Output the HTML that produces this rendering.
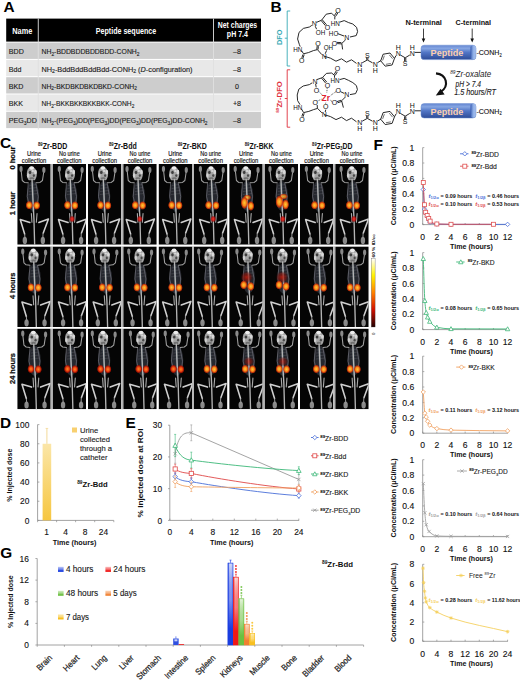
<!DOCTYPE html>
<html><head><meta charset="utf-8"><style>
html,body{margin:0;padding:0;background:#fff;}
body{width:520px;height:680px;overflow:hidden;font-family:"Liberation Sans", sans-serif;}
svg{display:block;font-family:"Liberation Sans", sans-serif;}
</style></head><body>
<svg width="520" height="680" viewBox="0 0 520 680">
<defs>
<symbol id="mouse" viewBox="0 0 33.5 80.7" width="33.5" height="80.7" overflow="visible">
 <g filter="url(#soft)">
  <ellipse cx="15.4" cy="32" rx="6.2" ry="15" fill="#40444e" opacity="0.55"/>
  <path d="M10.8 19.2 L9.8 32.6 L11.5 40 M18.4 19.2 L20.8 32.6 L20 40" stroke="#7a7a84" stroke-width="0.8" opacity="0.8" fill="none"/>
  <path d="M12.2 21.5 L18.8 20.5 M11.8 24.5 L19.4 23.5 M11.4 27.5 L20 26.5 M11.2 30.5 L20.2 29.5" stroke="#70707a" stroke-width="0.5" opacity="0.6"/>
  <path d="M15 19 L15.6 48" stroke="#6a8898" stroke-width="2.2" opacity="0.3"/>
  <path d="M14.2 2.6 C16.8 2.6 19.4 6.5 19.4 9.8 C19.4 12.8 18.2 15.6 17.3 16.2 L11.4 16.2 C10.2 15 9.4 12.2 9.4 9.4 C9.4 5.8 11.6 2.6 14.2 2.6 Z" fill="#a4a4a4"/>
  <ellipse cx="14.2" cy="4.0" rx="2.4" ry="1.8" fill="#ececec"/>
  <ellipse cx="18" cy="8" rx="1.4" ry="2.2" fill="#d8d8d8"/>
  <ellipse cx="10.6" cy="11.5" rx="1.2" ry="2.2" fill="#d0d0d0"/>
  <ellipse cx="15.4" cy="7" rx="1.2" ry="1.0" fill="#d8d8d8"/>
  <ellipse cx="12.6" cy="8.4" rx="1.3" ry="1.6" fill="#3c3c3c"/>
  <ellipse cx="16.4" cy="11.6" rx="1.1" ry="1.4" fill="#484848"/>
  <ellipse cx="14.4" cy="14.4" rx="2.4" ry="1.2" fill="#707070"/>
  <g fill="none" stroke="#c4c4c4" stroke-width="1.4" stroke-linecap="round" stroke-linejoin="round">
   <path d="M3.7 6.5 L4.8 16.5 L7 18.4 L10.8 18.8" stroke="#a0a0a0" stroke-width="1.05"/>
   <path d="M26.3 8 L25 16.5 L22.6 18.4 L18.6 18.8" stroke="#a0a0a0" stroke-width="1.05"/>
   <path d="M14.6 15.5 L15.2 30 L16.5 55 L17.2 80.7" stroke="#b4b4b4" stroke-width="1.35"/>
   <path d="M12.4 58.5 L2.8 55.6 L7.2 70" stroke="#d0d0d0" stroke-width="1.55"/>
   <path d="M21.4 58.5 L31 55 L25.8 69" stroke="#d0d0d0" stroke-width="1.55"/>
   <path d="M13.9 49.5 L14.5 58.3 M19.6 49.5 L18.9 58.3" stroke="#a8a8a8" stroke-width="1.1"/>
  </g>
  <g fill="#8a8a8a">
   <ellipse cx="3.6" cy="5" rx="1.6" ry="3"/>
   <ellipse cx="26.4" cy="6" rx="1.6" ry="3"/>
   <ellipse cx="7.4" cy="76.4" rx="2.2" ry="3.6" fill="#8a8a8a"/>
   <ellipse cx="25.4" cy="76.4" rx="2.2" ry="3.6" fill="#8a8a8a"/>
   <path d="M7.2 70 L7.6 75 M25.6 69 L25.4 75" stroke="#9a9a9a" stroke-width="1"/>
  </g>
 </g>
</symbol>

<filter id="soft" x="-10%" y="-10%" width="120%" height="120%"><feGaussianBlur stdDeviation="0.4"/></filter>
<radialGradient id="hot0"><stop offset="0" stop-color="#ffc838"/><stop offset="0.5" stop-color="#f88818"/><stop offset="0.78" stop-color="#d03008" stop-opacity="0.85"/><stop offset="1" stop-color="#d03008" stop-opacity="0"/></radialGradient>
<radialGradient id="hot1"><stop offset="0" stop-color="#ffc838"/><stop offset="0.5" stop-color="#f88818"/><stop offset="0.78" stop-color="#d03008" stop-opacity="0.85"/><stop offset="1" stop-color="#d03008" stop-opacity="0"/></radialGradient>
<radialGradient id="hot2"><stop offset="0" stop-color="#ff8a20"/><stop offset="0.5" stop-color="#e84010"/><stop offset="0.78" stop-color="#a81000" stop-opacity="0.85"/><stop offset="1" stop-color="#a81000" stop-opacity="0"/></radialGradient>
<radialGradient id="haze"><stop offset="0" stop-color="#c01808" stop-opacity="0.85"/><stop offset="0.6" stop-color="#801008" stop-opacity="0.6"/><stop offset="1" stop-color="#400000" stop-opacity="0"/></radialGradient>
<radialGradient id="bl"><stop offset="0" stop-color="#ff3020"/><stop offset="0.6" stop-color="#c01010" stop-opacity="0.8"/><stop offset="1" stop-color="#800000" stop-opacity="0"/></radialGradient>
<linearGradient id="cbar" x1="0" y1="0" x2="0" y2="1"><stop offset="0" stop-color="#ffffff"/><stop offset="0.25" stop-color="#fff200"/><stop offset="0.5" stop-color="#ff8000"/><stop offset="0.75" stop-color="#d01000"/><stop offset="1" stop-color="#200000"/></linearGradient>
<linearGradient id="ybar" x1="0" y1="0" x2="0" y2="1"><stop offset="0" stop-color="#fbe6a8"/><stop offset="1" stop-color="#f6c640"/></linearGradient>
<linearGradient id="g0" x1="0" y1="0" x2="0" y2="1"><stop offset="0" stop-color="#dfe5fb"/><stop offset="0.45" stop-color="#1a3ee0" stop-opacity="0.55"/><stop offset="0.8" stop-color="#1a3ee0"/><stop offset="1" stop-color="#1a3ee0"/></linearGradient>
<linearGradient id="gh0" x1="0" y1="0" x2="1" y2="0"><stop offset="0" stop-color="#1a3ee0" stop-opacity="0.9"/><stop offset="0.35" stop-color="#1a3ee0" stop-opacity="0"/><stop offset="1" stop-color="#1a3ee0" stop-opacity="0.15"/></linearGradient>
<linearGradient id="g1" x1="0" y1="0" x2="0" y2="1"><stop offset="0" stop-color="#fde0e0"/><stop offset="0.45" stop-color="#f01818" stop-opacity="0.55"/><stop offset="0.8" stop-color="#f01818"/><stop offset="1" stop-color="#f01818"/></linearGradient>
<linearGradient id="gh1" x1="0" y1="0" x2="1" y2="0"><stop offset="0" stop-color="#f01818" stop-opacity="0.9"/><stop offset="0.35" stop-color="#f01818" stop-opacity="0"/><stop offset="1" stop-color="#f01818" stop-opacity="0.15"/></linearGradient>
<linearGradient id="g2" x1="0" y1="0" x2="0" y2="1"><stop offset="0" stop-color="#eef7e6"/><stop offset="0.45" stop-color="#6cc040" stop-opacity="0.55"/><stop offset="0.8" stop-color="#6cc040"/><stop offset="1" stop-color="#6cc040"/></linearGradient>
<linearGradient id="gh2" x1="0" y1="0" x2="1" y2="0"><stop offset="0" stop-color="#6cc040" stop-opacity="0.9"/><stop offset="0.35" stop-color="#6cc040" stop-opacity="0"/><stop offset="1" stop-color="#6cc040" stop-opacity="0.15"/></linearGradient>
<linearGradient id="g3" x1="0" y1="0" x2="0" y2="1"><stop offset="0" stop-color="#fde8d8"/><stop offset="0.45" stop-color="#f08030" stop-opacity="0.55"/><stop offset="0.8" stop-color="#f08030"/><stop offset="1" stop-color="#f08030"/></linearGradient>
<linearGradient id="gh3" x1="0" y1="0" x2="1" y2="0"><stop offset="0" stop-color="#f08030" stop-opacity="0.9"/><stop offset="0.35" stop-color="#f08030" stop-opacity="0"/><stop offset="1" stop-color="#f08030" stop-opacity="0.15"/></linearGradient>
<linearGradient id="g4" x1="0" y1="0" x2="0" y2="1"><stop offset="0" stop-color="#fef4d0"/><stop offset="0.45" stop-color="#f8c020" stop-opacity="0.55"/><stop offset="0.8" stop-color="#f8c020"/><stop offset="1" stop-color="#f8c020"/></linearGradient>
<linearGradient id="gh4" x1="0" y1="0" x2="1" y2="0"><stop offset="0" stop-color="#f8c020" stop-opacity="0.9"/><stop offset="0.35" stop-color="#f8c020" stop-opacity="0"/><stop offset="1" stop-color="#f8c020" stop-opacity="0.15"/></linearGradient>
<linearGradient id="pep" x1="0" y1="0" x2="0" y2="1"><stop offset="0" stop-color="#6486d2"/><stop offset="0.22" stop-color="#86a6e2"/><stop offset="0.5" stop-color="#5276c6"/><stop offset="1" stop-color="#2e4c98"/></linearGradient>
<linearGradient id="pepend" x1="0" y1="0" x2="1" y2="0"><stop offset="0" stop-color="#3a5cb0"/><stop offset="0.5" stop-color="#8eaee6"/><stop offset="1" stop-color="#a8c0ee"/></linearGradient></defs>
<text x="3.4" y="11.9" font-size="15.4" font-weight="bold" fill="#000" text-anchor="start" >A</text>
<rect x="6.2" y="18.6" width="254.8" height="23" fill="#000"/>
<rect x="6.2" y="42.6" width="254.8" height="16.3" fill="#cdcdcd"/>
<text x="8.8" y="54.2" font-size="7.1" font-weight="normal" fill="#1a1a1a" text-anchor="start" stroke="#1a1a1a" stroke-width="0.12">BDD</text>
<text x="41.5" y="54.2" font-size="7.1" font-weight="normal" fill="#1a1a1a" text-anchor="None" textLength="98" lengthAdjust="spacingAndGlyphs" stroke="#1a1a1a" stroke-width="0.12">NH<tspan font-size="5" dy="1.5">2</tspan><tspan dy="-1.5">-BDDBDDBDDBDD-CONH</tspan><tspan font-size="5" dy="1.5">2</tspan></text>
<text x="237" y="54.2" font-size="7.1" font-weight="normal" fill="#1a1a1a" text-anchor="middle" stroke="#1a1a1a" stroke-width="0.12">–8</text>
<rect x="6.2" y="59.900000000000006" width="254.8" height="16.3" fill="#e8e8e8"/>
<text x="8.8" y="71.5" font-size="7.1" font-weight="normal" fill="#1a1a1a" text-anchor="start" stroke="#1a1a1a" stroke-width="0.12">Bdd</text>
<text x="41.5" y="71.5" font-size="7.1" font-weight="normal" fill="#1a1a1a" text-anchor="None" textLength="151" lengthAdjust="spacingAndGlyphs" stroke="#1a1a1a" stroke-width="0.12">NH<tspan font-size="5" dy="1.5">2</tspan><tspan dy="-1.5">-BddBddBddBdd-CONH</tspan><tspan font-size="5" dy="1.5">2</tspan><tspan dy="-1.5"> (</tspan><tspan font-style="italic">D</tspan>-configuration)</text>
<text x="237" y="71.5" font-size="7.1" font-weight="normal" fill="#1a1a1a" text-anchor="middle" stroke="#1a1a1a" stroke-width="0.12">–8</text>
<rect x="6.2" y="77.2" width="254.8" height="16.3" fill="#cdcdcd"/>
<text x="8.8" y="88.8" font-size="7.1" font-weight="normal" fill="#1a1a1a" text-anchor="start" stroke="#1a1a1a" stroke-width="0.12">BKD</text>
<text x="41.5" y="88.8" font-size="7.1" font-weight="normal" fill="#1a1a1a" text-anchor="None" textLength="95.4" lengthAdjust="spacingAndGlyphs" stroke="#1a1a1a" stroke-width="0.12">NH<tspan font-size="5" dy="1.5">2</tspan><tspan dy="-1.5">-BKDBKDBKDBKD-CONH</tspan><tspan font-size="5" dy="1.5">2</tspan></text>
<text x="237" y="88.8" font-size="7.1" font-weight="normal" fill="#1a1a1a" text-anchor="middle" stroke="#1a1a1a" stroke-width="0.12">0</text>
<rect x="6.2" y="94.5" width="254.8" height="16.3" fill="#e8e8e8"/>
<text x="8.8" y="106.1" font-size="7.1" font-weight="normal" fill="#1a1a1a" text-anchor="start" stroke="#1a1a1a" stroke-width="0.12">BKK</text>
<text x="41.5" y="106.1" font-size="7.1" font-weight="normal" fill="#1a1a1a" text-anchor="None" textLength="92.8" lengthAdjust="spacingAndGlyphs" stroke="#1a1a1a" stroke-width="0.12">NH<tspan font-size="5" dy="1.5">2</tspan><tspan dy="-1.5">-BKKBKKBKKBKK-CONH</tspan><tspan font-size="5" dy="1.5">2</tspan></text>
<text x="237" y="106.1" font-size="7.1" font-weight="normal" fill="#1a1a1a" text-anchor="middle" stroke="#1a1a1a" stroke-width="0.12">+8</text>
<rect x="6.2" y="111.80000000000001" width="254.8" height="16.3" fill="#cdcdcd"/>
<text x="8.8" y="123.4" font-size="7.1" font-weight="normal" fill="#1a1a1a" text-anchor="start" stroke="#1a1a1a" stroke-width="0.12">PEG<tspan font-size="5" dy="1.5">3</tspan><tspan dy="-1.5">DD</tspan></text>
<text x="41.5" y="123.4" font-size="7.1" font-weight="normal" fill="#1a1a1a" text-anchor="None" textLength="166" lengthAdjust="spacingAndGlyphs" stroke="#1a1a1a" stroke-width="0.12">NH<tspan font-size="5" dy="1.5">2</tspan><tspan dy="-1.5">-(PEG</tspan><tspan font-size="5" dy="1.5">3</tspan><tspan dy="-1.5">)DD(PEG</tspan><tspan font-size="5" dy="1.5">3</tspan><tspan dy="-1.5">)DD(PEG</tspan><tspan font-size="5" dy="1.5">3</tspan><tspan dy="-1.5">)DD(PEG</tspan><tspan font-size="5" dy="1.5">3</tspan><tspan dy="-1.5">)DD-CONH</tspan><tspan font-size="5" dy="1.5">2</tspan></text>
<text x="237" y="123.4" font-size="7.1" font-weight="normal" fill="#1a1a1a" text-anchor="middle" stroke="#1a1a1a" stroke-width="0.12">–8</text>
<rect x="37.8" y="18.6" width="0.9" height="111" fill="#e0e0e0"/>
<rect x="213" y="18.6" width="0.9" height="111" fill="#e0e0e0"/>
<text x="22.3" y="33.6" font-size="8.3" font-weight="bold" fill="#fff" text-anchor="middle" textLength="20" lengthAdjust="spacingAndGlyphs" >Name</text>
<text x="126" y="33.6" font-size="8.3" font-weight="bold" fill="#fff" text-anchor="middle" textLength="60.4" lengthAdjust="spacingAndGlyphs" >Peptide sequence</text>
<text x="237.5" y="27.6" font-size="8.3" font-weight="bold" fill="#fff" text-anchor="middle" textLength="39.4" lengthAdjust="spacingAndGlyphs" >Net charges</text>
<text x="237.4" y="36.8" font-size="8.3" font-weight="bold" fill="#fff" text-anchor="middle" textLength="21.1" lengthAdjust="spacingAndGlyphs" >pH 7.4</text>
<text x="0.1" y="147.6" font-size="15.4" font-weight="bold" fill="#000" text-anchor="start" >C</text>
<text x="38" y="148.8" font-size="8.6" font-weight="bold" fill="#111" textLength="29.3" lengthAdjust="spacingAndGlyphs"><tspan font-size="5.2" dy="-3.2">89</tspan><tspan dy="3.2">Zr-BDD</tspan></text>
<text x="109" y="148.8" font-size="8.6" font-weight="bold" fill="#111" textLength="27.8" lengthAdjust="spacingAndGlyphs"><tspan font-size="5.2" dy="-3.2">89</tspan><tspan dy="3.2">Zr-Bdd</tspan></text>
<text x="177.7" y="148.8" font-size="8.6" font-weight="bold" fill="#111" textLength="29.2" lengthAdjust="spacingAndGlyphs"><tspan font-size="5.2" dy="-3.2">89</tspan><tspan dy="3.2">Zr-BKD</tspan></text>
<text x="244.8" y="148.8" font-size="8.6" font-weight="bold" fill="#111" textLength="28.8" lengthAdjust="spacingAndGlyphs"><tspan font-size="5.2" dy="-3.2">89</tspan><tspan dy="3.2">Zr-BKK</tspan></text>
<text x="312.1" y="148.8" font-size="8.6" font-weight="bold" fill="#111" textLength="40.4" lengthAdjust="spacingAndGlyphs"><tspan font-size="5.2" dy="-3.2">89</tspan><tspan dy="3.2">Zr-PEG<tspan font-size="5" dy="1.6">3</tspan><tspan dy="-1.6">DD</tspan></tspan></text>
<text x="34.0" y="155.8" font-size="6.3" font-weight="normal" fill="#111" text-anchor="middle" textLength="14" lengthAdjust="spacingAndGlyphs" stroke="#111" stroke-width="0.15">Urine</text>
<text x="34.0" y="162.5" font-size="6.3" font-weight="normal" fill="#111" text-anchor="middle" textLength="24.6" lengthAdjust="spacingAndGlyphs" stroke="#111" stroke-width="0.15">collection</text>
<text x="69.33" y="155.8" font-size="6.3" font-weight="normal" fill="#111" text-anchor="middle" textLength="20.8" lengthAdjust="spacingAndGlyphs" stroke="#111" stroke-width="0.15">No urine</text>
<text x="69.33" y="162.5" font-size="6.3" font-weight="normal" fill="#111" text-anchor="middle" textLength="24.6" lengthAdjust="spacingAndGlyphs" stroke="#111" stroke-width="0.15">collection</text>
<text x="104.66" y="155.8" font-size="6.3" font-weight="normal" fill="#111" text-anchor="middle" textLength="14" lengthAdjust="spacingAndGlyphs" stroke="#111" stroke-width="0.15">Urine</text>
<text x="104.66" y="162.5" font-size="6.3" font-weight="normal" fill="#111" text-anchor="middle" textLength="24.6" lengthAdjust="spacingAndGlyphs" stroke="#111" stroke-width="0.15">collection</text>
<text x="139.99" y="155.8" font-size="6.3" font-weight="normal" fill="#111" text-anchor="middle" textLength="20.8" lengthAdjust="spacingAndGlyphs" stroke="#111" stroke-width="0.15">No urine</text>
<text x="139.99" y="162.5" font-size="6.3" font-weight="normal" fill="#111" text-anchor="middle" textLength="24.6" lengthAdjust="spacingAndGlyphs" stroke="#111" stroke-width="0.15">collection</text>
<text x="175.32" y="155.8" font-size="6.3" font-weight="normal" fill="#111" text-anchor="middle" textLength="14" lengthAdjust="spacingAndGlyphs" stroke="#111" stroke-width="0.15">Urine</text>
<text x="175.32" y="162.5" font-size="6.3" font-weight="normal" fill="#111" text-anchor="middle" textLength="24.6" lengthAdjust="spacingAndGlyphs" stroke="#111" stroke-width="0.15">collection</text>
<text x="210.64999999999998" y="155.8" font-size="6.3" font-weight="normal" fill="#111" text-anchor="middle" textLength="20.8" lengthAdjust="spacingAndGlyphs" stroke="#111" stroke-width="0.15">No urine</text>
<text x="210.64999999999998" y="162.5" font-size="6.3" font-weight="normal" fill="#111" text-anchor="middle" textLength="24.6" lengthAdjust="spacingAndGlyphs" stroke="#111" stroke-width="0.15">collection</text>
<text x="245.98" y="155.8" font-size="6.3" font-weight="normal" fill="#111" text-anchor="middle" textLength="14" lengthAdjust="spacingAndGlyphs" stroke="#111" stroke-width="0.15">Urine</text>
<text x="245.98" y="162.5" font-size="6.3" font-weight="normal" fill="#111" text-anchor="middle" textLength="24.6" lengthAdjust="spacingAndGlyphs" stroke="#111" stroke-width="0.15">collection</text>
<text x="281.31" y="155.8" font-size="6.3" font-weight="normal" fill="#111" text-anchor="middle" textLength="20.8" lengthAdjust="spacingAndGlyphs" stroke="#111" stroke-width="0.15">No urine</text>
<text x="281.31" y="162.5" font-size="6.3" font-weight="normal" fill="#111" text-anchor="middle" textLength="24.6" lengthAdjust="spacingAndGlyphs" stroke="#111" stroke-width="0.15">collection</text>
<text x="316.64" y="155.8" font-size="6.3" font-weight="normal" fill="#111" text-anchor="middle" textLength="14" lengthAdjust="spacingAndGlyphs" stroke="#111" stroke-width="0.15">Urine</text>
<text x="316.64" y="162.5" font-size="6.3" font-weight="normal" fill="#111" text-anchor="middle" textLength="24.6" lengthAdjust="spacingAndGlyphs" stroke="#111" stroke-width="0.15">collection</text>
<text x="351.96999999999997" y="155.8" font-size="6.3" font-weight="normal" fill="#111" text-anchor="middle" textLength="20.8" lengthAdjust="spacingAndGlyphs" stroke="#111" stroke-width="0.15">No urine</text>
<text x="351.96999999999997" y="162.5" font-size="6.3" font-weight="normal" fill="#111" text-anchor="middle" textLength="24.6" lengthAdjust="spacingAndGlyphs" stroke="#111" stroke-width="0.15">collection</text>
<text transform="translate(15.3 158) rotate(-90)" x="0" y="0" font-size="8.0" font-weight="bold" fill="#111" stroke="#111" stroke-width="0.25" text-anchor="middle" textLength="23" lengthAdjust="spacingAndGlyphs">0 hour</text>
<text transform="translate(15.3 203.5) rotate(-90)" x="0" y="0" font-size="8.0" font-weight="bold" fill="#111" stroke="#111" stroke-width="0.25" text-anchor="middle" textLength="23.5" lengthAdjust="spacingAndGlyphs">1 hour</text>
<text transform="translate(15.3 285.8) rotate(-90)" x="0" y="0" font-size="8.0" font-weight="bold" fill="#111" stroke="#111" stroke-width="0.25" text-anchor="middle" textLength="26.5" lengthAdjust="spacingAndGlyphs">4 hours</text>
<text transform="translate(15.3 368.5) rotate(-90)" x="0" y="0" font-size="8.0" font-weight="bold" fill="#111" stroke="#111" stroke-width="0.25" text-anchor="middle" textLength="31" lengthAdjust="spacingAndGlyphs">24 hours</text>
<svg x="17.25" y="164.0" width="33.5" height="80.7" viewBox="0 0 33.5 80.7" overflow="hidden">
<rect width="33.5" height="80.7" fill="#050505"/>
<g transform="translate(0.2 0)">
<use href="#mouse"/>
<ellipse cx="11.8" cy="41.2" rx="3.7" ry="4.4" fill="url(#hot0)"/>
<ellipse cx="19.2" cy="41.5" rx="3.7" ry="4.4" fill="url(#hot0)"/>
</g>
</svg>
<rect x="50.75" y="164.0" width="1.83" height="80.7" fill="#b4b4b4"/>
<svg x="52.58" y="164.0" width="33.5" height="80.7" viewBox="0 0 33.5 80.7" overflow="hidden">
<rect width="33.5" height="80.7" fill="#050505"/>
<g transform="translate(3.1 0)">
<use href="#mouse"/>
<ellipse cx="11.8" cy="41.2" rx="3.7" ry="4.4" fill="url(#hot0)"/>
<ellipse cx="19.2" cy="41.5" rx="3.7" ry="4.4" fill="url(#hot0)"/>
<ellipse cx="16.4" cy="55" rx="3.0" ry="3.5" fill="url(#bl)"/>
</g>
</svg>
<svg x="87.91" y="164.0" width="33.5" height="80.7" viewBox="0 0 33.5 80.7" overflow="hidden">
<rect width="33.5" height="80.7" fill="#050505"/>
<g transform="translate(0.8 0)">
<use href="#mouse"/>
<ellipse cx="11.8" cy="41.2" rx="3.7" ry="4.4" fill="url(#hot0)"/>
<ellipse cx="19.2" cy="41.5" rx="3.7" ry="4.4" fill="url(#hot0)"/>
</g>
</svg>
<rect x="121.41" y="164.0" width="1.83" height="80.7" fill="#b4b4b4"/>
<svg x="123.24" y="164.0" width="33.5" height="80.7" viewBox="0 0 33.5 80.7" overflow="hidden">
<rect width="33.5" height="80.7" fill="#050505"/>
<g transform="translate(0.2 0)">
<use href="#mouse"/>
<ellipse cx="11.8" cy="41.2" rx="3.7" ry="4.4" fill="url(#hot0)"/>
<ellipse cx="19.2" cy="41.5" rx="3.7" ry="4.4" fill="url(#hot0)"/>
<ellipse cx="16.4" cy="55" rx="3.0" ry="3.5" fill="url(#bl)"/>
</g>
</svg>
<svg x="158.57" y="164.0" width="33.5" height="80.7" viewBox="0 0 33.5 80.7" overflow="hidden">
<rect width="33.5" height="80.7" fill="#050505"/>
<g transform="translate(1.3 0)">
<use href="#mouse"/>
<ellipse cx="11.8" cy="41.2" rx="3.7" ry="4.4" fill="url(#hot0)"/>
<ellipse cx="19.2" cy="41.5" rx="3.7" ry="4.4" fill="url(#hot0)"/>
</g>
</svg>
<rect x="192.07" y="164.0" width="1.83" height="80.7" fill="#b4b4b4"/>
<svg x="193.90" y="164.0" width="33.5" height="80.7" viewBox="0 0 33.5 80.7" overflow="hidden">
<rect width="33.5" height="80.7" fill="#050505"/>
<g transform="translate(2.9 0)">
<use href="#mouse"/>
<ellipse cx="11.8" cy="41.2" rx="3.7" ry="4.4" fill="url(#hot0)"/>
<ellipse cx="19.2" cy="41.5" rx="3.7" ry="4.4" fill="url(#hot0)"/>
<ellipse cx="16.4" cy="55" rx="3.0" ry="3.5" fill="url(#bl)"/>
</g>
</svg>
<svg x="229.23" y="164.0" width="33.5" height="80.7" viewBox="0 0 33.5 80.7" overflow="hidden">
<rect width="33.5" height="80.7" fill="#050505"/>
<g transform="translate(2.4 0)">
<use href="#mouse"/>
</g>
<ellipse cx="18" cy="33.5" rx="4" ry="3" fill="url(#hot0)" opacity="0.8"/>
<ellipse cx="15.2" cy="38.8" rx="3.8" ry="6.4" fill="url(#hot0)"/>
<ellipse cx="21.6" cy="42" rx="3.6" ry="5" fill="url(#hot0)"/>
</svg>
<rect x="262.73" y="164.0" width="1.83" height="80.7" fill="#b4b4b4"/>
<svg x="264.56" y="164.0" width="33.5" height="80.7" viewBox="0 0 33.5 80.7" overflow="hidden">
<rect width="33.5" height="80.7" fill="#050505"/>
<g transform="translate(1.8 0)">
<use href="#mouse"/>
<ellipse cx="16.4" cy="55" rx="3.0" ry="3.5" fill="url(#bl)"/>
</g>
<ellipse cx="19" cy="32.5" rx="4.4" ry="3" fill="url(#hot0)" opacity="0.8"/>
<ellipse cx="14.8" cy="37.8" rx="4" ry="6.6" fill="url(#hot0)"/>
<ellipse cx="21" cy="40.5" rx="3.6" ry="5.4" fill="url(#hot0)"/>
</svg>
<svg x="299.89" y="164.0" width="33.5" height="80.7" viewBox="0 0 33.5 80.7" overflow="hidden">
<rect width="33.5" height="80.7" fill="#050505"/>
<g transform="translate(2.9 0)">
<use href="#mouse"/>
<ellipse cx="11.8" cy="41.2" rx="3.7" ry="4.4" fill="url(#hot0)"/>
<ellipse cx="19.2" cy="41.5" rx="3.7" ry="4.4" fill="url(#hot0)"/>
</g>
</svg>
<rect x="333.39" y="164.0" width="1.83" height="80.7" fill="#b4b4b4"/>
<svg x="335.22" y="164.0" width="33.5" height="80.7" viewBox="0 0 33.5 80.7" overflow="hidden">
<rect width="33.5" height="80.7" fill="#050505"/>
<g transform="translate(2.3 0)">
<use href="#mouse"/>
<ellipse cx="11.8" cy="41.2" rx="3.7" ry="4.4" fill="url(#hot0)"/>
<ellipse cx="19.2" cy="41.5" rx="3.7" ry="4.4" fill="url(#hot0)"/>
<ellipse cx="16.4" cy="55" rx="3.0" ry="3.5" fill="url(#bl)"/>
</g>
</svg>
<svg x="17.25" y="246.4" width="33.5" height="80.7" viewBox="0 0 33.5 80.7" overflow="hidden">
<rect width="33.5" height="80.7" fill="#050505"/>
<g transform="translate(1.9 0)">
<use href="#mouse"/>
<ellipse cx="11.8" cy="41.0" rx="3.7" ry="4.4" fill="url(#hot1)"/>
<ellipse cx="19.2" cy="41.3" rx="3.7" ry="4.4" fill="url(#hot1)"/>
</g>
</svg>
<rect x="50.75" y="246.4" width="1.83" height="80.7" fill="#b4b4b4"/>
<svg x="52.58" y="246.4" width="33.5" height="80.7" viewBox="0 0 33.5 80.7" overflow="hidden">
<rect width="33.5" height="80.7" fill="#050505"/>
<g transform="translate(3.1 0)">
<use href="#mouse"/>
<ellipse cx="11.8" cy="41.0" rx="3.7" ry="4.4" fill="url(#hot1)"/>
<ellipse cx="19.2" cy="41.3" rx="3.7" ry="4.4" fill="url(#hot1)"/>
</g>
</svg>
<svg x="87.91" y="246.4" width="33.5" height="80.7" viewBox="0 0 33.5 80.7" overflow="hidden">
<rect width="33.5" height="80.7" fill="#050505"/>
<g transform="translate(2.5 0)">
<use href="#mouse"/>
<ellipse cx="11.8" cy="41.0" rx="3.7" ry="4.4" fill="url(#hot1)"/>
<ellipse cx="19.2" cy="41.3" rx="3.7" ry="4.4" fill="url(#hot1)"/>
</g>
</svg>
<rect x="121.41" y="246.4" width="1.83" height="80.7" fill="#b4b4b4"/>
<svg x="123.24" y="246.4" width="33.5" height="80.7" viewBox="0 0 33.5 80.7" overflow="hidden">
<rect width="33.5" height="80.7" fill="#050505"/>
<g transform="translate(1.9 0)">
<use href="#mouse"/>
<ellipse cx="11.8" cy="41.0" rx="3.7" ry="4.4" fill="url(#hot1)"/>
<ellipse cx="19.2" cy="41.3" rx="3.7" ry="4.4" fill="url(#hot1)"/>
</g>
</svg>
<svg x="158.57" y="246.4" width="33.5" height="80.7" viewBox="0 0 33.5 80.7" overflow="hidden">
<rect width="33.5" height="80.7" fill="#050505"/>
<g transform="translate(1.3 0)">
<use href="#mouse"/>
<ellipse cx="11.8" cy="41.0" rx="3.7" ry="4.4" fill="url(#hot1)"/>
<ellipse cx="19.2" cy="41.3" rx="3.7" ry="4.4" fill="url(#hot1)"/>
</g>
</svg>
<rect x="192.07" y="246.4" width="1.83" height="80.7" fill="#b4b4b4"/>
<svg x="193.90" y="246.4" width="33.5" height="80.7" viewBox="0 0 33.5 80.7" overflow="hidden">
<rect width="33.5" height="80.7" fill="#050505"/>
<g transform="translate(1.2 0)">
<use href="#mouse"/>
<ellipse cx="11.8" cy="41.0" rx="3.7" ry="4.4" fill="url(#hot1)"/>
<ellipse cx="19.2" cy="41.3" rx="3.7" ry="4.4" fill="url(#hot1)"/>
</g>
</svg>
<svg x="229.23" y="246.4" width="33.5" height="80.7" viewBox="0 0 33.5 80.7" overflow="hidden">
<rect width="33.5" height="80.7" fill="#050505"/>
<g transform="translate(4.1 0)">
<use href="#mouse"/>
</g>
<ellipse cx="17.5" cy="31" rx="6.5" ry="6.5" fill="url(#haze)"/>
<ellipse cx="14.5" cy="38.5" rx="3.8" ry="4.6" fill="url(#hot1)"/>
<ellipse cx="21.5" cy="40" rx="3.8" ry="4.6" fill="url(#hot1)"/>
</svg>
<rect x="262.73" y="246.4" width="1.83" height="80.7" fill="#b4b4b4"/>
<svg x="264.56" y="246.4" width="33.5" height="80.7" viewBox="0 0 33.5 80.7" overflow="hidden">
<rect width="33.5" height="80.7" fill="#050505"/>
<g transform="translate(3.5 0)">
<use href="#mouse"/>
</g>
<ellipse cx="17.5" cy="31" rx="6.5" ry="6.5" fill="url(#haze)"/>
<ellipse cx="14.5" cy="38.5" rx="3.8" ry="4.6" fill="url(#hot1)"/>
<ellipse cx="21.5" cy="40" rx="3.8" ry="4.6" fill="url(#hot1)"/>
</svg>
<svg x="299.89" y="246.4" width="33.5" height="80.7" viewBox="0 0 33.5 80.7" overflow="hidden">
<rect width="33.5" height="80.7" fill="#050505"/>
<g transform="translate(4.6 0)">
<use href="#mouse"/>
<ellipse cx="11.8" cy="41.0" rx="3.7" ry="4.4" fill="url(#hot1)"/>
<ellipse cx="19.2" cy="41.3" rx="3.7" ry="4.4" fill="url(#hot1)"/>
</g>
</svg>
<rect x="333.39" y="246.4" width="1.83" height="80.7" fill="#b4b4b4"/>
<svg x="335.22" y="246.4" width="33.5" height="80.7" viewBox="0 0 33.5 80.7" overflow="hidden">
<rect width="33.5" height="80.7" fill="#050505"/>
<g transform="translate(3.0 0)">
<use href="#mouse"/>
<ellipse cx="11.8" cy="41.0" rx="3.7" ry="4.4" fill="url(#hot1)"/>
<ellipse cx="19.2" cy="41.3" rx="3.7" ry="4.4" fill="url(#hot1)"/>
</g>
</svg>
<svg x="17.25" y="328.6" width="33.5" height="80.7" viewBox="0 0 33.5 80.7" overflow="hidden">
<rect width="33.5" height="80.7" fill="#050505"/>
<g transform="translate(1.9 0)">
<use href="#mouse"/>
<ellipse cx="11.8" cy="40.4" rx="3.7" ry="4.4" fill="url(#hot2)"/>
<ellipse cx="19.2" cy="40.699999999999996" rx="3.7" ry="4.4" fill="url(#hot2)"/>
</g>
</svg>
<rect x="50.75" y="328.6" width="1.83" height="80.7" fill="#b4b4b4"/>
<svg x="52.58" y="328.6" width="33.5" height="80.7" viewBox="0 0 33.5 80.7" overflow="hidden">
<rect width="33.5" height="80.7" fill="#050505"/>
<g transform="translate(3.1 0)">
<use href="#mouse"/>
<ellipse cx="11.8" cy="40.4" rx="3.7" ry="4.4" fill="url(#hot2)"/>
<ellipse cx="19.2" cy="40.699999999999996" rx="3.7" ry="4.4" fill="url(#hot2)"/>
</g>
</svg>
<svg x="87.91" y="328.6" width="33.5" height="80.7" viewBox="0 0 33.5 80.7" overflow="hidden">
<rect width="33.5" height="80.7" fill="#050505"/>
<g transform="translate(0.8 0)">
<use href="#mouse"/>
<ellipse cx="11.8" cy="40.4" rx="3.7" ry="4.4" fill="url(#hot2)"/>
<ellipse cx="19.2" cy="40.699999999999996" rx="3.7" ry="4.4" fill="url(#hot2)"/>
</g>
</svg>
<rect x="121.41" y="328.6" width="1.83" height="80.7" fill="#b4b4b4"/>
<svg x="123.24" y="328.6" width="33.5" height="80.7" viewBox="0 0 33.5 80.7" overflow="hidden">
<rect width="33.5" height="80.7" fill="#050505"/>
<g transform="translate(3.6 0)">
<use href="#mouse"/>
<ellipse cx="11.8" cy="40.4" rx="3.7" ry="4.4" fill="url(#hot2)"/>
<ellipse cx="19.2" cy="40.699999999999996" rx="3.7" ry="4.4" fill="url(#hot2)"/>
</g>
</svg>
<svg x="158.57" y="328.6" width="33.5" height="80.7" viewBox="0 0 33.5 80.7" overflow="hidden">
<rect width="33.5" height="80.7" fill="#050505"/>
<g transform="translate(3.1 0)">
<use href="#mouse"/>
<ellipse cx="11.8" cy="40.4" rx="3.7" ry="4.4" fill="url(#hot2)"/>
<ellipse cx="19.2" cy="40.699999999999996" rx="3.7" ry="4.4" fill="url(#hot2)"/>
</g>
</svg>
<rect x="192.07" y="328.6" width="1.83" height="80.7" fill="#b4b4b4"/>
<svg x="193.90" y="328.6" width="33.5" height="80.7" viewBox="0 0 33.5 80.7" overflow="hidden">
<rect width="33.5" height="80.7" fill="#050505"/>
<g transform="translate(1.2 0)">
<use href="#mouse"/>
<ellipse cx="11.8" cy="40.4" rx="3.7" ry="4.4" fill="url(#hot1)"/>
<ellipse cx="19.2" cy="40.699999999999996" rx="3.7" ry="4.4" fill="url(#hot1)"/>
</g>
</svg>
<svg x="229.23" y="328.6" width="33.5" height="80.7" viewBox="0 0 33.5 80.7" overflow="hidden">
<rect width="33.5" height="80.7" fill="#050505"/>
<g transform="translate(4.1 0)">
<use href="#mouse"/>
<ellipse cx="15.5" cy="33" rx="5.5" ry="5" fill="url(#haze)" opacity="0.8"/>
<ellipse cx="11.8" cy="40.4" rx="3.7" ry="4.4" fill="url(#hot1)"/>
<ellipse cx="19.2" cy="40.699999999999996" rx="3.7" ry="4.4" fill="url(#hot1)"/>
</g>
</svg>
<rect x="262.73" y="328.6" width="1.83" height="80.7" fill="#b4b4b4"/>
<svg x="264.56" y="328.6" width="33.5" height="80.7" viewBox="0 0 33.5 80.7" overflow="hidden">
<rect width="33.5" height="80.7" fill="#050505"/>
<g transform="translate(2.8 0)">
<use href="#mouse"/>
<ellipse cx="15.5" cy="33" rx="5.5" ry="5" fill="url(#haze)" opacity="0.8"/>
<ellipse cx="11.8" cy="40.4" rx="3.7" ry="4.4" fill="url(#hot1)"/>
<ellipse cx="19.2" cy="40.699999999999996" rx="3.7" ry="4.4" fill="url(#hot1)"/>
</g>
</svg>
<svg x="299.89" y="328.6" width="33.5" height="80.7" viewBox="0 0 33.5 80.7" overflow="hidden">
<rect width="33.5" height="80.7" fill="#050505"/>
<g transform="translate(4.6 0)">
<use href="#mouse"/>
<ellipse cx="11.8" cy="40.4" rx="3.7" ry="4.4" fill="url(#hot1)"/>
<ellipse cx="19.2" cy="40.699999999999996" rx="3.7" ry="4.4" fill="url(#hot1)"/>
</g>
</svg>
<rect x="333.39" y="328.6" width="1.83" height="80.7" fill="#b4b4b4"/>
<svg x="335.22" y="328.6" width="33.5" height="80.7" viewBox="0 0 33.5 80.7" overflow="hidden">
<rect width="33.5" height="80.7" fill="#050505"/>
<g transform="translate(3.0 0)">
<use href="#mouse"/>
<ellipse cx="11.8" cy="40.4" rx="3.7" ry="4.4" fill="url(#hot1)"/>
<ellipse cx="19.2" cy="40.699999999999996" rx="3.7" ry="4.4" fill="url(#hot1)"/>
</g>
</svg>
<rect x="371.3" y="258.4" width="3.8" height="68.6" fill="url(#cbar)" stroke="#444" stroke-width="0.3"/>
<text transform="translate(374.6 257.5) rotate(-90)" font-size="4.4" font-weight="bold" fill="#000" textLength="23.5" lengthAdjust="spacingAndGlyphs">60 % ID/cc</text>
<text transform="translate(374.8 335) rotate(-90)" font-size="4.2" fill="#000">0</text>
<text x="373.4" y="150" font-size="15.4" font-weight="bold" fill="#000" text-anchor="start" >F</text>
<path d="M422.7 147.6 L422.7 224.6 L507.90000000000003 224.6" fill="none" stroke="#8a8a8a" stroke-width="0.8"/>
<path d="M422.7 224.60 L424.3 224.60" stroke="#8a8a8a" stroke-width="0.7"/>
<text x="414.2" y="227.7" font-size="8.6" font-weight="normal" fill="#111" text-anchor="end" stroke="#111" stroke-width="0.12">0</text>
<path d="M422.7 209.20 L424.3 209.20" stroke="#8a8a8a" stroke-width="0.7"/>
<text x="414.2" y="212.29999999999998" font-size="8.6" font-weight="normal" fill="#111" text-anchor="end" stroke="#111" stroke-width="0.12">0.2</text>
<path d="M422.7 193.80 L424.3 193.80" stroke="#8a8a8a" stroke-width="0.7"/>
<text x="414.2" y="196.89999999999998" font-size="8.6" font-weight="normal" fill="#111" text-anchor="end" stroke="#111" stroke-width="0.12">0.4</text>
<path d="M422.7 178.40 L424.3 178.40" stroke="#8a8a8a" stroke-width="0.7"/>
<text x="414.2" y="181.5" font-size="8.6" font-weight="normal" fill="#111" text-anchor="end" stroke="#111" stroke-width="0.12">0.6</text>
<path d="M422.7 163.00 L424.3 163.00" stroke="#8a8a8a" stroke-width="0.7"/>
<text x="414.2" y="166.1" font-size="8.6" font-weight="normal" fill="#111" text-anchor="end" stroke="#111" stroke-width="0.12">0.8</text>
<path d="M422.7 147.60 L424.3 147.60" stroke="#8a8a8a" stroke-width="0.7"/>
<text x="414.2" y="150.7" font-size="8.6" font-weight="normal" fill="#111" text-anchor="end" stroke="#111" stroke-width="0.12">1</text>
<path d="M422.70 224.6 L422.70 223.0" stroke="#8a8a8a" stroke-width="0.7"/>
<text x="422.7" y="239.79999999999998" font-size="8.6" font-weight="normal" fill="#111" text-anchor="middle" stroke="#111" stroke-width="0.12">0</text>
<path d="M436.85 224.6 L436.85 223.0" stroke="#8a8a8a" stroke-width="0.7"/>
<text x="436.85" y="239.79999999999998" font-size="8.6" font-weight="normal" fill="#111" text-anchor="middle" stroke="#111" stroke-width="0.12">2</text>
<path d="M451.00 224.6 L451.00 223.0" stroke="#8a8a8a" stroke-width="0.7"/>
<text x="451.0" y="239.79999999999998" font-size="8.6" font-weight="normal" fill="#111" text-anchor="middle" stroke="#111" stroke-width="0.12">4</text>
<path d="M465.15 224.6 L465.15 223.0" stroke="#8a8a8a" stroke-width="0.7"/>
<text x="465.15" y="239.79999999999998" font-size="8.6" font-weight="normal" fill="#111" text-anchor="middle" stroke="#111" stroke-width="0.12">6</text>
<path d="M479.30 224.6 L479.30 223.0" stroke="#8a8a8a" stroke-width="0.7"/>
<text x="479.3" y="239.79999999999998" font-size="8.6" font-weight="normal" fill="#111" text-anchor="middle" stroke="#111" stroke-width="0.12">8</text>
<path d="M493.45 224.6 L493.45 223.0" stroke="#8a8a8a" stroke-width="0.7"/>
<text x="493.45000000000005" y="239.79999999999998" font-size="8.6" font-weight="normal" fill="#111" text-anchor="middle" stroke="#111" stroke-width="0.12">10</text>
<path d="M507.60 224.6 L507.60 223.0" stroke="#8a8a8a" stroke-width="0.7"/>
<text x="507.6" y="239.79999999999998" font-size="8.6" font-weight="normal" fill="#111" text-anchor="middle" stroke="#111" stroke-width="0.12">12</text>
<text x="471.5" y="248.79999999999998" font-size="8.0" font-weight="bold" fill="#111" text-anchor="middle" textLength="42.9" lengthAdjust="spacingAndGlyphs" >Time (hours)</text>
<text transform="translate(396.2 185.8) rotate(-90)" font-size="7.3" font-weight="bold" fill="#111" text-anchor="middle" textLength="79" lengthAdjust="spacingAndGlyphs">Concentration (μCi/mL)</text>
<path d="M423.29 189.49 C423.68 196.06 424.07 206.97 424.47 209.20 C424.87 211.47 425.27 212.14 425.67 213.28 C426.17 214.69 426.66 215.82 427.16 216.90 C427.68 218.03 428.19 219.05 428.71 219.98 C429.19 220.82 429.66 222.03 430.13 222.29 C432.37 223.54 434.61 224.06 436.85 224.14 C441.57 224.30 446.28 224.37 451.00 224.37 C469.87 224.37 488.73 224.37 507.60 224.37" fill="none" stroke="#4a6fd8" stroke-width="0.9"/>
<path d="M423.29 187.29 L425.49 189.49 L423.29 191.69 L421.09 189.49 Z" fill="#fff" stroke="#4a6fd8" stroke-width="0.8"/>
<path d="M424.47 207.00 L426.67 209.20 L424.47 211.40 L422.27 209.20 Z" fill="#fff" stroke="#4a6fd8" stroke-width="0.8"/>
<path d="M425.67 211.08 L427.87 213.28 L425.67 215.48 L423.47 213.28 Z" fill="#fff" stroke="#4a6fd8" stroke-width="0.8"/>
<path d="M427.16 214.70 L429.36 216.90 L427.16 219.10 L424.96 216.90 Z" fill="#fff" stroke="#4a6fd8" stroke-width="0.8"/>
<path d="M428.71 217.78 L430.91 219.98 L428.71 222.18 L426.51 219.98 Z" fill="#fff" stroke="#4a6fd8" stroke-width="0.8"/>
<path d="M430.13 220.09 L432.33 222.29 L430.13 224.49 L427.93 222.29 Z" fill="#fff" stroke="#4a6fd8" stroke-width="0.8"/>
<path d="M436.85 221.94 L439.05 224.14 L436.85 226.34 L434.65 224.14 Z" fill="#fff" stroke="#4a6fd8" stroke-width="0.8"/>
<path d="M451.00 222.17 L453.20 224.37 L451.00 226.57 L448.80 224.37 Z" fill="#fff" stroke="#4a6fd8" stroke-width="0.8"/>
<path d="M507.60 222.17 L509.80 224.37 L507.60 226.57 L505.40 224.37 Z" fill="#fff" stroke="#4a6fd8" stroke-width="0.8"/>
<path d="M423.29 182.48 C423.68 189.90 424.07 201.02 424.47 204.73 C424.87 208.51 425.27 210.94 425.67 212.28 C426.17 213.94 426.66 214.59 427.16 215.59 C427.68 216.63 428.19 217.47 428.71 218.44 C429.19 219.32 429.66 220.76 430.13 221.13 C432.37 222.94 434.61 223.88 436.85 223.98 C441.57 224.20 446.28 224.29 451.00 224.29 C465.15 224.29 479.30 224.29 493.45 224.29" fill="none" stroke="#e05050" stroke-width="0.9"/>
<rect x="421.29" y="180.48" width="4.00" height="4.00" fill="#fff" stroke="#e05050" stroke-width="0.8"/>
<rect x="422.47" y="202.73" width="4.00" height="4.00" fill="#fff" stroke="#e05050" stroke-width="0.8"/>
<rect x="423.67" y="210.28" width="4.00" height="4.00" fill="#fff" stroke="#e05050" stroke-width="0.8"/>
<rect x="425.16" y="213.59" width="4.00" height="4.00" fill="#fff" stroke="#e05050" stroke-width="0.8"/>
<rect x="426.71" y="216.44" width="4.00" height="4.00" fill="#fff" stroke="#e05050" stroke-width="0.8"/>
<rect x="428.13" y="219.13" width="4.00" height="4.00" fill="#fff" stroke="#e05050" stroke-width="0.8"/>
<rect x="434.85" y="221.98" width="4.00" height="4.00" fill="#fff" stroke="#e05050" stroke-width="0.8"/>
<rect x="449.00" y="222.29" width="4.00" height="4.00" fill="#fff" stroke="#e05050" stroke-width="0.8"/>
<rect x="491.45" y="222.29" width="4.00" height="4.00" fill="#fff" stroke="#e05050" stroke-width="0.8"/>
<path d="M460 153.8 L468.5 153.8" stroke="#4a6fd8" stroke-width="0.9"/>
<path d="M464.80 151.60 L467.00 153.80 L464.80 156.00 L462.60 153.80 Z" fill="#fff" stroke="#4a6fd8" stroke-width="0.8"/>
<text x="471.4" y="157.0" font-size="7.0" font-weight="normal" fill="#222" text-anchor="start" textLength="27.5" lengthAdjust="spacingAndGlyphs" stroke="#222" stroke-width="0.12"><tspan font-size="4.34" dy="-2.80" font-weight="bold">89</tspan><tspan dy="2.80">Zr-BDD</tspan></text>
<path d="M460 166.2 L468.5 166.2" stroke="#e05050" stroke-width="0.9"/>
<rect x="462.80" y="164.20" width="4.00" height="4.00" fill="#fff" stroke="#e05050" stroke-width="0.8"/>
<text x="471.4" y="169.39999999999998" font-size="7.0" font-weight="normal" fill="#222" text-anchor="start" textLength="25.5" lengthAdjust="spacingAndGlyphs" stroke="#222" stroke-width="0.12"><tspan font-size="4.34" dy="-2.80" font-weight="bold">89</tspan><tspan dy="2.80">Zr-Bdd</tspan></text>
<text x="428.4" y="198" font-size="6.2" font-weight="bold" fill="#4a6fd8" font-style="italic">t<tspan font-size="4.2" dy="1.4" font-style="normal" textLength="8.2" lengthAdjust="spacingAndGlyphs">1/2α</tspan></text>
<text x="440.5" y="198" font-size="5.8" font-weight="bold" fill="#111" text-anchor="None" textLength="31.8" lengthAdjust="spacingAndGlyphs" >= 0.09 hours</text>
<text x="475.3" y="198" font-size="6.2" font-weight="bold" fill="#4a6fd8" font-style="italic">t<tspan font-size="4.2" dy="1.4" font-style="normal" textLength="8.2" lengthAdjust="spacingAndGlyphs">1/2β</tspan></text>
<text x="487.3" y="198" font-size="5.8" font-weight="bold" fill="#111" text-anchor="None" textLength="31.8" lengthAdjust="spacingAndGlyphs" >= 0.46 hours</text>
<text x="428.4" y="205.7" font-size="6.2" font-weight="bold" fill="#e05050" font-style="italic">t<tspan font-size="4.2" dy="1.4" font-style="normal" textLength="8.2" lengthAdjust="spacingAndGlyphs">1/2α</tspan></text>
<text x="440.5" y="205.7" font-size="5.8" font-weight="bold" fill="#111" text-anchor="None" textLength="31.8" lengthAdjust="spacingAndGlyphs" >= 0.10 hours</text>
<text x="475.3" y="205.7" font-size="6.2" font-weight="bold" fill="#e05050" font-style="italic">t<tspan font-size="4.2" dy="1.4" font-style="normal" textLength="8.2" lengthAdjust="spacingAndGlyphs">1/2β</tspan></text>
<text x="487.3" y="205.7" font-size="5.8" font-weight="bold" fill="#111" text-anchor="None" textLength="31.8" lengthAdjust="spacingAndGlyphs" >= 0.53 hours</text>
<path d="M422.7 252.60000000000002 L422.7 329.6 L507.90000000000003 329.6" fill="none" stroke="#8a8a8a" stroke-width="0.8"/>
<path d="M422.7 329.60 L424.3 329.60" stroke="#8a8a8a" stroke-width="0.7"/>
<text x="414.2" y="332.70000000000005" font-size="8.6" font-weight="normal" fill="#111" text-anchor="end" stroke="#111" stroke-width="0.12">0</text>
<path d="M422.7 314.20 L424.3 314.20" stroke="#8a8a8a" stroke-width="0.7"/>
<text x="414.2" y="317.30000000000007" font-size="8.6" font-weight="normal" fill="#111" text-anchor="end" stroke="#111" stroke-width="0.12">0.2</text>
<path d="M422.7 298.80 L424.3 298.80" stroke="#8a8a8a" stroke-width="0.7"/>
<text x="414.2" y="301.90000000000003" font-size="8.6" font-weight="normal" fill="#111" text-anchor="end" stroke="#111" stroke-width="0.12">0.4</text>
<path d="M422.7 283.40 L424.3 283.40" stroke="#8a8a8a" stroke-width="0.7"/>
<text x="414.2" y="286.50000000000006" font-size="8.6" font-weight="normal" fill="#111" text-anchor="end" stroke="#111" stroke-width="0.12">0.6</text>
<path d="M422.7 268.00 L424.3 268.00" stroke="#8a8a8a" stroke-width="0.7"/>
<text x="414.2" y="271.1" font-size="8.6" font-weight="normal" fill="#111" text-anchor="end" stroke="#111" stroke-width="0.12">0.8</text>
<path d="M422.7 252.60 L424.3 252.60" stroke="#8a8a8a" stroke-width="0.7"/>
<text x="414.2" y="255.70000000000002" font-size="8.6" font-weight="normal" fill="#111" text-anchor="end" stroke="#111" stroke-width="0.12">1</text>
<path d="M422.70 329.6 L422.70 328.0" stroke="#8a8a8a" stroke-width="0.7"/>
<text x="422.7" y="344.8" font-size="8.6" font-weight="normal" fill="#111" text-anchor="middle" stroke="#111" stroke-width="0.12">0</text>
<path d="M436.85 329.6 L436.85 328.0" stroke="#8a8a8a" stroke-width="0.7"/>
<text x="436.85" y="344.8" font-size="8.6" font-weight="normal" fill="#111" text-anchor="middle" stroke="#111" stroke-width="0.12">2</text>
<path d="M451.00 329.6 L451.00 328.0" stroke="#8a8a8a" stroke-width="0.7"/>
<text x="451.0" y="344.8" font-size="8.6" font-weight="normal" fill="#111" text-anchor="middle" stroke="#111" stroke-width="0.12">4</text>
<path d="M465.15 329.6 L465.15 328.0" stroke="#8a8a8a" stroke-width="0.7"/>
<text x="465.15" y="344.8" font-size="8.6" font-weight="normal" fill="#111" text-anchor="middle" stroke="#111" stroke-width="0.12">6</text>
<path d="M479.30 329.6 L479.30 328.0" stroke="#8a8a8a" stroke-width="0.7"/>
<text x="479.3" y="344.8" font-size="8.6" font-weight="normal" fill="#111" text-anchor="middle" stroke="#111" stroke-width="0.12">8</text>
<path d="M493.45 329.6 L493.45 328.0" stroke="#8a8a8a" stroke-width="0.7"/>
<text x="493.45000000000005" y="344.8" font-size="8.6" font-weight="normal" fill="#111" text-anchor="middle" stroke="#111" stroke-width="0.12">10</text>
<path d="M507.60 329.6 L507.60 328.0" stroke="#8a8a8a" stroke-width="0.7"/>
<text x="507.6" y="344.8" font-size="8.6" font-weight="normal" fill="#111" text-anchor="middle" stroke="#111" stroke-width="0.12">12</text>
<text x="471.5" y="353.8" font-size="8.0" font-weight="bold" fill="#111" text-anchor="middle" textLength="42.9" lengthAdjust="spacingAndGlyphs" >Time (hours)</text>
<text transform="translate(396.2 290.8) rotate(-90)" font-size="7.3" font-weight="bold" fill="#111" text-anchor="middle" textLength="79" lengthAdjust="spacingAndGlyphs">Concentration (μCi/mL)</text>
<path d="M423.29 258.76 C423.80 272.75 424.31 294.17 424.82 300.73 C425.29 306.76 425.77 310.44 426.24 312.66 C426.71 314.88 427.18 316.09 427.65 317.28 C428.36 319.06 429.07 320.63 429.77 321.52 C432.13 324.47 434.49 326.80 436.85 327.29 C441.57 328.28 446.28 328.80 451.00 328.83 C469.87 328.95 488.73 328.93 507.60 328.98" fill="none" stroke="#40b878" stroke-width="0.9"/>
<path d="M423.29 256.56 L425.49 260.52 L421.09 260.52 Z" fill="#fff" stroke="#40b878" stroke-width="0.8"/>
<path d="M424.82 298.53 L427.02 302.49 L422.62 302.49 Z" fill="#fff" stroke="#40b878" stroke-width="0.8"/>
<path d="M426.24 310.46 L428.44 314.42 L424.04 314.42 Z" fill="#fff" stroke="#40b878" stroke-width="0.8"/>
<path d="M427.65 315.08 L429.85 319.04 L425.45 319.04 Z" fill="#fff" stroke="#40b878" stroke-width="0.8"/>
<path d="M429.77 319.32 L431.97 323.28 L427.57 323.28 Z" fill="#fff" stroke="#40b878" stroke-width="0.8"/>
<path d="M436.85 325.09 L439.05 329.05 L434.65 329.05 Z" fill="#fff" stroke="#40b878" stroke-width="0.8"/>
<path d="M451.00 326.63 L453.20 330.59 L448.80 330.59 Z" fill="#fff" stroke="#40b878" stroke-width="0.8"/>
<path d="M507.60 326.78 L509.80 330.74 L505.40 330.74 Z" fill="#fff" stroke="#40b878" stroke-width="0.8"/>
<path d="M456.2 262 L464.6 262" stroke="#40b878" stroke-width="0.9"/>
<path d="M460.80 259.80 L463.00 263.76 L458.60 263.76 Z" fill="#fff" stroke="#40b878" stroke-width="0.8"/>
<text x="467.7" y="265.2" font-size="7.0" font-weight="normal" fill="#222" text-anchor="start" textLength="27" lengthAdjust="spacingAndGlyphs" stroke="#222" stroke-width="0.12"><tspan font-size="4.34" dy="-2.80" font-weight="bold">89</tspan><tspan dy="2.80">Zr-BKD</tspan></text>
<text x="428.4" y="309.5" font-size="6.2" font-weight="bold" fill="#40b878" font-style="italic">t<tspan font-size="4.2" dy="1.4" font-style="normal" textLength="8.2" lengthAdjust="spacingAndGlyphs">1/2α</tspan></text>
<text x="440.5" y="309.5" font-size="5.8" font-weight="bold" fill="#111" text-anchor="None" textLength="31.8" lengthAdjust="spacingAndGlyphs" >= 0.08 hours</text>
<text x="475.3" y="309.5" font-size="6.2" font-weight="bold" fill="#40b878" font-style="italic">t<tspan font-size="4.2" dy="1.4" font-style="normal" textLength="8.2" lengthAdjust="spacingAndGlyphs">1/2β</tspan></text>
<text x="487.3" y="309.5" font-size="5.8" font-weight="bold" fill="#111" text-anchor="None" textLength="31.8" lengthAdjust="spacingAndGlyphs" >= 0.65 hours</text>
<path d="M422.7 356.2 L422.7 433.2 L507.90000000000003 433.2" fill="none" stroke="#8a8a8a" stroke-width="0.8"/>
<path d="M422.7 433.20 L424.3 433.20" stroke="#8a8a8a" stroke-width="0.7"/>
<text x="414.2" y="436.3" font-size="8.6" font-weight="normal" fill="#111" text-anchor="end" stroke="#111" stroke-width="0.12">0</text>
<path d="M422.7 417.80 L424.3 417.80" stroke="#8a8a8a" stroke-width="0.7"/>
<text x="414.2" y="420.90000000000003" font-size="8.6" font-weight="normal" fill="#111" text-anchor="end" stroke="#111" stroke-width="0.12">0.2</text>
<path d="M422.7 402.40 L424.3 402.40" stroke="#8a8a8a" stroke-width="0.7"/>
<text x="414.2" y="405.5" font-size="8.6" font-weight="normal" fill="#111" text-anchor="end" stroke="#111" stroke-width="0.12">0.4</text>
<path d="M422.7 387.00 L424.3 387.00" stroke="#8a8a8a" stroke-width="0.7"/>
<text x="414.2" y="390.1" font-size="8.6" font-weight="normal" fill="#111" text-anchor="end" stroke="#111" stroke-width="0.12">0.6</text>
<path d="M422.7 371.60 L424.3 371.60" stroke="#8a8a8a" stroke-width="0.7"/>
<text x="414.2" y="374.7" font-size="8.6" font-weight="normal" fill="#111" text-anchor="end" stroke="#111" stroke-width="0.12">0.8</text>
<path d="M422.7 356.20 L424.3 356.20" stroke="#8a8a8a" stroke-width="0.7"/>
<text x="414.2" y="359.3" font-size="8.6" font-weight="normal" fill="#111" text-anchor="end" stroke="#111" stroke-width="0.12">1</text>
<path d="M422.70 433.2 L422.70 431.59999999999997" stroke="#8a8a8a" stroke-width="0.7"/>
<text x="422.7" y="448.4" font-size="8.6" font-weight="normal" fill="#111" text-anchor="middle" stroke="#111" stroke-width="0.12">0</text>
<path d="M436.85 433.2 L436.85 431.59999999999997" stroke="#8a8a8a" stroke-width="0.7"/>
<text x="436.85" y="448.4" font-size="8.6" font-weight="normal" fill="#111" text-anchor="middle" stroke="#111" stroke-width="0.12">2</text>
<path d="M451.00 433.2 L451.00 431.59999999999997" stroke="#8a8a8a" stroke-width="0.7"/>
<text x="451.0" y="448.4" font-size="8.6" font-weight="normal" fill="#111" text-anchor="middle" stroke="#111" stroke-width="0.12">4</text>
<path d="M465.15 433.2 L465.15 431.59999999999997" stroke="#8a8a8a" stroke-width="0.7"/>
<text x="465.15" y="448.4" font-size="8.6" font-weight="normal" fill="#111" text-anchor="middle" stroke="#111" stroke-width="0.12">6</text>
<path d="M479.30 433.2 L479.30 431.59999999999997" stroke="#8a8a8a" stroke-width="0.7"/>
<text x="479.3" y="448.4" font-size="8.6" font-weight="normal" fill="#111" text-anchor="middle" stroke="#111" stroke-width="0.12">8</text>
<path d="M493.45 433.2 L493.45 431.59999999999997" stroke="#8a8a8a" stroke-width="0.7"/>
<text x="493.45000000000005" y="448.4" font-size="8.6" font-weight="normal" fill="#111" text-anchor="middle" stroke="#111" stroke-width="0.12">10</text>
<path d="M507.60 433.2 L507.60 431.59999999999997" stroke="#8a8a8a" stroke-width="0.7"/>
<text x="507.6" y="448.4" font-size="8.6" font-weight="normal" fill="#111" text-anchor="middle" stroke="#111" stroke-width="0.12">12</text>
<text x="471.5" y="457.4" font-size="8.0" font-weight="bold" fill="#111" text-anchor="middle" textLength="42.9" lengthAdjust="spacingAndGlyphs" >Time (hours)</text>
<text transform="translate(396.2 394.4) rotate(-90)" font-size="7.3" font-weight="bold" fill="#111" text-anchor="middle" textLength="79" lengthAdjust="spacingAndGlyphs">Concentration (μCi/mL)</text>
<path d="M423.29 392.00 C423.80 399.06 424.31 410.88 424.82 413.18 C425.29 415.30 425.77 415.69 426.24 417.03 C426.71 418.37 427.18 420.18 427.65 421.26 C428.36 422.89 429.07 424.51 429.77 425.12 C432.13 427.14 434.49 428.13 436.85 428.58 C441.57 429.48 446.28 429.98 451.00 430.12 C469.87 430.66 488.73 430.63 507.60 430.89" fill="none" stroke="#f0a060" stroke-width="0.9"/>
<path d="M423.29 389.81 L425.49 392.00 L423.29 394.20 L421.09 392.00 Z" fill="#fff" stroke="#f0a060" stroke-width="0.8"/>
<path d="M424.82 410.98 L427.02 413.18 L424.82 415.38 L422.62 413.18 Z" fill="#fff" stroke="#f0a060" stroke-width="0.8"/>
<path d="M426.24 414.83 L428.44 417.03 L426.24 419.23 L424.04 417.03 Z" fill="#fff" stroke="#f0a060" stroke-width="0.8"/>
<path d="M427.65 419.06 L429.85 421.26 L427.65 423.46 L425.45 421.26 Z" fill="#fff" stroke="#f0a060" stroke-width="0.8"/>
<path d="M429.77 422.92 L431.97 425.12 L429.77 427.31 L427.57 425.12 Z" fill="#fff" stroke="#f0a060" stroke-width="0.8"/>
<path d="M436.85 426.38 L439.05 428.58 L436.85 430.78 L434.65 428.58 Z" fill="#fff" stroke="#f0a060" stroke-width="0.8"/>
<path d="M451.00 427.92 L453.20 430.12 L451.00 432.32 L448.80 430.12 Z" fill="#fff" stroke="#f0a060" stroke-width="0.8"/>
<path d="M507.60 428.69 L509.80 430.89 L507.60 433.09 L505.40 430.89 Z" fill="#fff" stroke="#f0a060" stroke-width="0.8"/>
<path d="M456.2 367.1 L465.4 367.1" stroke="#f0a060" stroke-width="0.9"/>
<path d="M461.50 364.90 L463.70 367.10 L461.50 369.30 L459.30 367.10 Z" fill="#fff" stroke="#f0a060" stroke-width="0.8"/>
<text x="468.5" y="370.3" font-size="7.0" font-weight="normal" fill="#222" text-anchor="start" textLength="26.2" lengthAdjust="spacingAndGlyphs" stroke="#222" stroke-width="0.12"><tspan font-size="4.34" dy="-2.80" font-weight="bold">89</tspan><tspan dy="2.80">Zr-BKK</tspan></text>
<text x="428.4" y="412" font-size="6.2" font-weight="bold" fill="#f0a060" font-style="italic">t<tspan font-size="4.2" dy="1.4" font-style="normal" textLength="8.2" lengthAdjust="spacingAndGlyphs">1/2α</tspan></text>
<text x="440.5" y="412" font-size="5.8" font-weight="bold" fill="#111" text-anchor="None" textLength="31.8" lengthAdjust="spacingAndGlyphs" >= 0.11 hours</text>
<text x="475.3" y="412" font-size="6.2" font-weight="bold" fill="#f0a060" font-style="italic">t<tspan font-size="4.2" dy="1.4" font-style="normal" textLength="8.2" lengthAdjust="spacingAndGlyphs">1/2β</tspan></text>
<text x="487.3" y="412" font-size="5.8" font-weight="bold" fill="#111" text-anchor="None" textLength="31.8" lengthAdjust="spacingAndGlyphs" >= 3.12 hours</text>
<path d="M422.7 459.70000000000005 L422.7 536.7 L507.90000000000003 536.7" fill="none" stroke="#8a8a8a" stroke-width="0.8"/>
<path d="M422.7 536.70 L424.3 536.70" stroke="#8a8a8a" stroke-width="0.7"/>
<text x="414.2" y="539.8000000000001" font-size="8.6" font-weight="normal" fill="#111" text-anchor="end" stroke="#111" stroke-width="0.12">0</text>
<path d="M422.7 521.30 L424.3 521.30" stroke="#8a8a8a" stroke-width="0.7"/>
<text x="414.2" y="524.4000000000001" font-size="8.6" font-weight="normal" fill="#111" text-anchor="end" stroke="#111" stroke-width="0.12">0.2</text>
<path d="M422.7 505.90 L424.3 505.90" stroke="#8a8a8a" stroke-width="0.7"/>
<text x="414.2" y="509.00000000000006" font-size="8.6" font-weight="normal" fill="#111" text-anchor="end" stroke="#111" stroke-width="0.12">0.4</text>
<path d="M422.7 490.50 L424.3 490.50" stroke="#8a8a8a" stroke-width="0.7"/>
<text x="414.2" y="493.6000000000001" font-size="8.6" font-weight="normal" fill="#111" text-anchor="end" stroke="#111" stroke-width="0.12">0.6</text>
<path d="M422.7 475.10 L424.3 475.10" stroke="#8a8a8a" stroke-width="0.7"/>
<text x="414.2" y="478.20000000000005" font-size="8.6" font-weight="normal" fill="#111" text-anchor="end" stroke="#111" stroke-width="0.12">0.8</text>
<path d="M422.7 459.70 L424.3 459.70" stroke="#8a8a8a" stroke-width="0.7"/>
<text x="414.2" y="462.80000000000007" font-size="8.6" font-weight="normal" fill="#111" text-anchor="end" stroke="#111" stroke-width="0.12">1</text>
<path d="M422.70 536.7 L422.70 535.1" stroke="#8a8a8a" stroke-width="0.7"/>
<text x="422.7" y="551.9000000000001" font-size="8.6" font-weight="normal" fill="#111" text-anchor="middle" stroke="#111" stroke-width="0.12">0</text>
<path d="M436.85 536.7 L436.85 535.1" stroke="#8a8a8a" stroke-width="0.7"/>
<text x="436.85" y="551.9000000000001" font-size="8.6" font-weight="normal" fill="#111" text-anchor="middle" stroke="#111" stroke-width="0.12">2</text>
<path d="M451.00 536.7 L451.00 535.1" stroke="#8a8a8a" stroke-width="0.7"/>
<text x="451.0" y="551.9000000000001" font-size="8.6" font-weight="normal" fill="#111" text-anchor="middle" stroke="#111" stroke-width="0.12">4</text>
<path d="M465.15 536.7 L465.15 535.1" stroke="#8a8a8a" stroke-width="0.7"/>
<text x="465.15" y="551.9000000000001" font-size="8.6" font-weight="normal" fill="#111" text-anchor="middle" stroke="#111" stroke-width="0.12">6</text>
<path d="M479.30 536.7 L479.30 535.1" stroke="#8a8a8a" stroke-width="0.7"/>
<text x="479.3" y="551.9000000000001" font-size="8.6" font-weight="normal" fill="#111" text-anchor="middle" stroke="#111" stroke-width="0.12">8</text>
<path d="M493.45 536.7 L493.45 535.1" stroke="#8a8a8a" stroke-width="0.7"/>
<text x="493.45000000000005" y="551.9000000000001" font-size="8.6" font-weight="normal" fill="#111" text-anchor="middle" stroke="#111" stroke-width="0.12">10</text>
<path d="M507.60 536.7 L507.60 535.1" stroke="#8a8a8a" stroke-width="0.7"/>
<text x="507.6" y="551.9000000000001" font-size="8.6" font-weight="normal" fill="#111" text-anchor="middle" stroke="#111" stroke-width="0.12">12</text>
<text x="471.5" y="560.9000000000001" font-size="8.0" font-weight="bold" fill="#111" text-anchor="middle" textLength="42.9" lengthAdjust="spacingAndGlyphs" >Time (hours)</text>
<text transform="translate(396.2 497.9) rotate(-90)" font-size="7.3" font-weight="bold" fill="#111" text-anchor="middle" textLength="79" lengthAdjust="spacingAndGlyphs">Concentration (μCi/mL)</text>
<path d="M423.29 483.57 C423.80 493.32 424.31 506.90 424.82 512.83 C425.29 518.29 425.77 522.82 426.24 524.69 C427.18 528.43 428.12 530.50 429.07 531.46 C431.66 534.12 434.26 535.78 436.85 535.93 C441.57 536.20 446.28 536.29 451.00 536.32 C469.87 536.43 488.73 536.42 507.60 536.47" fill="none" stroke="#a0a0a0" stroke-width="0.9"/>
<path d="M421.69 481.97 L424.89 485.17 M424.89 481.97 L421.69 485.17" stroke="#a0a0a0" stroke-width="0.8"/>
<path d="M423.22 511.23 L426.42 514.43 M426.42 511.23 L423.22 514.43" stroke="#a0a0a0" stroke-width="0.8"/>
<path d="M424.64 523.09 L427.84 526.29 M427.84 523.09 L424.64 526.29" stroke="#a0a0a0" stroke-width="0.8"/>
<path d="M427.47 529.86 L430.67 533.06 M430.67 529.86 L427.47 533.06" stroke="#a0a0a0" stroke-width="0.8"/>
<path d="M435.25 534.33 L438.45 537.53 M438.45 534.33 L435.25 537.53" stroke="#a0a0a0" stroke-width="0.8"/>
<path d="M449.40 534.72 L452.60 537.92 M452.60 534.72 L449.40 537.92" stroke="#a0a0a0" stroke-width="0.8"/>
<path d="M506.00 534.87 L509.20 538.07 M509.20 534.87 L506.00 538.07" stroke="#a0a0a0" stroke-width="0.8"/>
<path d="M457 471 L466.9 471" stroke="#a0a0a0" stroke-width="0.9"/>
<path d="M460.40 469.40 L463.60 472.60 M463.60 469.40 L460.40 472.60" stroke="#a0a0a0" stroke-width="0.8"/>
<text x="469.2" y="474.2" font-size="7.0" font-weight="normal" fill="#222" text-anchor="start" textLength="38.5" lengthAdjust="spacingAndGlyphs" stroke="#222" stroke-width="0.12"><tspan font-size="4.34" dy="-2.80" font-weight="bold">89</tspan><tspan dy="2.80">Zr-PEG<tspan font-size="4.4" dy="1.6">3</tspan><tspan dy="-1.6">DD</tspan></tspan></text>
<text x="428.4" y="515.5" font-size="6.2" font-weight="bold" fill="#a0a0a0" font-style="italic">t<tspan font-size="4.2" dy="1.4" font-style="normal" textLength="8.2" lengthAdjust="spacingAndGlyphs">1/2α</tspan></text>
<text x="440.5" y="515.5" font-size="5.8" font-weight="bold" fill="#111" text-anchor="None" textLength="31.8" lengthAdjust="spacingAndGlyphs" >= 0.10 hours</text>
<text x="475.3" y="515.5" font-size="6.2" font-weight="bold" fill="#a0a0a0" font-style="italic">t<tspan font-size="4.2" dy="1.4" font-style="normal" textLength="8.2" lengthAdjust="spacingAndGlyphs">1/2β</tspan></text>
<text x="487.3" y="515.5" font-size="5.8" font-weight="bold" fill="#111" text-anchor="None" textLength="31.8" lengthAdjust="spacingAndGlyphs" >= 0.64 hours</text>
<path d="M422.7 564.3 L422.7 641.3 L507.90000000000003 641.3" fill="none" stroke="#8a8a8a" stroke-width="0.8"/>
<path d="M422.7 641.30 L424.3 641.30" stroke="#8a8a8a" stroke-width="0.7"/>
<text x="414.2" y="644.4" font-size="8.6" font-weight="normal" fill="#111" text-anchor="end" stroke="#111" stroke-width="0.12">0</text>
<path d="M422.7 622.05 L424.3 622.05" stroke="#8a8a8a" stroke-width="0.7"/>
<text x="414.2" y="625.15" font-size="8.6" font-weight="normal" fill="#111" text-anchor="end" stroke="#111" stroke-width="0.12">2</text>
<path d="M422.7 602.80 L424.3 602.80" stroke="#8a8a8a" stroke-width="0.7"/>
<text x="414.2" y="605.9" font-size="8.6" font-weight="normal" fill="#111" text-anchor="end" stroke="#111" stroke-width="0.12">4</text>
<path d="M422.7 583.55 L424.3 583.55" stroke="#8a8a8a" stroke-width="0.7"/>
<text x="414.2" y="586.65" font-size="8.6" font-weight="normal" fill="#111" text-anchor="end" stroke="#111" stroke-width="0.12">6</text>
<path d="M422.7 564.30 L424.3 564.30" stroke="#8a8a8a" stroke-width="0.7"/>
<text x="414.2" y="567.4" font-size="8.6" font-weight="normal" fill="#111" text-anchor="end" stroke="#111" stroke-width="0.12">8</text>
<path d="M422.70 641.3 L422.70 639.6999999999999" stroke="#8a8a8a" stroke-width="0.7"/>
<text x="422.7" y="656.5" font-size="8.6" font-weight="normal" fill="#111" text-anchor="middle" stroke="#111" stroke-width="0.12">0</text>
<path d="M436.85 641.3 L436.85 639.6999999999999" stroke="#8a8a8a" stroke-width="0.7"/>
<text x="436.85" y="656.5" font-size="8.6" font-weight="normal" fill="#111" text-anchor="middle" stroke="#111" stroke-width="0.12">4</text>
<path d="M451.00 641.3 L451.00 639.6999999999999" stroke="#8a8a8a" stroke-width="0.7"/>
<text x="451.0" y="656.5" font-size="8.6" font-weight="normal" fill="#111" text-anchor="middle" stroke="#111" stroke-width="0.12">8</text>
<path d="M465.15 641.3 L465.15 639.6999999999999" stroke="#8a8a8a" stroke-width="0.7"/>
<text x="465.15" y="656.5" font-size="8.6" font-weight="normal" fill="#111" text-anchor="middle" stroke="#111" stroke-width="0.12">12</text>
<path d="M479.30 641.3 L479.30 639.6999999999999" stroke="#8a8a8a" stroke-width="0.7"/>
<text x="479.3" y="656.5" font-size="8.6" font-weight="normal" fill="#111" text-anchor="middle" stroke="#111" stroke-width="0.12">16</text>
<path d="M493.45 641.3 L493.45 639.6999999999999" stroke="#8a8a8a" stroke-width="0.7"/>
<text x="493.45000000000005" y="656.5" font-size="8.6" font-weight="normal" fill="#111" text-anchor="middle" stroke="#111" stroke-width="0.12">20</text>
<path d="M507.60 641.3 L507.60 639.6999999999999" stroke="#8a8a8a" stroke-width="0.7"/>
<text x="507.6" y="656.5" font-size="8.6" font-weight="normal" fill="#111" text-anchor="middle" stroke="#111" stroke-width="0.12">24</text>
<text x="471.5" y="665.5" font-size="8.0" font-weight="bold" fill="#111" text-anchor="middle" textLength="42.9" lengthAdjust="spacingAndGlyphs" >Time (hours)</text>
<text transform="translate(396.2 602.5) rotate(-90)" font-size="7.3" font-weight="bold" fill="#111" text-anchor="middle" textLength="79" lengthAdjust="spacingAndGlyphs">Concentration (μCi/mL)</text>
<path d="M422.99 568.15 C423.19 572.96 423.39 579.75 423.58 582.59 C423.88 586.83 424.17 588.72 424.47 591.25 C424.76 593.78 425.06 596.35 425.35 597.99 C425.65 599.62 425.94 601.07 426.24 601.84 C427.42 604.92 428.60 606.49 429.77 607.61 C432.13 609.86 434.49 610.83 436.85 612.04 C441.57 614.47 446.28 616.48 451.00 618.01 C469.87 624.13 488.73 627.12 507.60 631.67" fill="none" stroke="#f5d060" stroke-width="0.9"/>
<path d="M421.19 568.15 L424.79 568.15 M422.99 566.35 L422.99 569.95 M421.73 566.89 L424.25 569.41 M424.25 566.89 L421.73 569.41" stroke="#f5d060" stroke-width="0.8"/>
<path d="M421.78 582.59 L425.38 582.59 M423.58 580.79 L423.58 584.39 M422.32 581.33 L424.84 583.85 M424.84 581.33 L422.32 583.85" stroke="#f5d060" stroke-width="0.8"/>
<path d="M422.67 591.25 L426.27 591.25 M424.47 589.45 L424.47 593.05 M423.21 589.99 L425.73 592.51 M425.73 589.99 L423.21 592.51" stroke="#f5d060" stroke-width="0.8"/>
<path d="M423.55 597.99 L427.15 597.99 M425.35 596.19 L425.35 599.79 M424.09 596.73 L426.61 599.25 M426.61 596.73 L424.09 599.25" stroke="#f5d060" stroke-width="0.8"/>
<path d="M424.44 601.84 L428.04 601.84 M426.24 600.04 L426.24 603.64 M424.98 600.58 L427.50 603.10 M427.50 600.58 L424.98 603.10" stroke="#f5d060" stroke-width="0.8"/>
<path d="M427.97 607.61 L431.57 607.61 M429.77 605.81 L429.77 609.41 M428.51 606.35 L431.03 608.87 M431.03 606.35 L428.51 608.87" stroke="#f5d060" stroke-width="0.8"/>
<path d="M435.05 612.04 L438.65 612.04 M436.85 610.24 L436.85 613.84 M435.59 610.78 L438.11 613.30 M438.11 610.78 L435.59 613.30" stroke="#f5d060" stroke-width="0.8"/>
<path d="M449.20 618.01 L452.80 618.01 M451.00 616.21 L451.00 619.81 M449.74 616.75 L452.26 619.27 M452.26 616.75 L449.74 619.27" stroke="#f5d060" stroke-width="0.8"/>
<path d="M505.80 631.67 L509.40 631.67 M507.60 629.88 L507.60 633.47 M506.34 630.41 L508.86 632.93 M508.86 630.41 L506.34 632.93" stroke="#f5d060" stroke-width="0.8"/>
<text x="428.4" y="601.5" font-size="6.2" font-weight="bold" fill="#f5d060" font-style="italic">t<tspan font-size="4.2" dy="1.4" font-style="normal" textLength="8.2" lengthAdjust="spacingAndGlyphs">1/2α</tspan></text>
<text x="440.5" y="601.5" font-size="5.8" font-weight="bold" fill="#111" text-anchor="None" textLength="31.8" lengthAdjust="spacingAndGlyphs" >= 0.28 hours</text>
<text x="475.3" y="601.5" font-size="6.2" font-weight="bold" fill="#f5d060" font-style="italic">t<tspan font-size="4.2" dy="1.4" font-style="normal" textLength="8.2" lengthAdjust="spacingAndGlyphs">1/2β</tspan></text>
<text x="487.3" y="601.5" font-size="5.8" font-weight="bold" fill="#111" text-anchor="None" textLength="33.5" lengthAdjust="spacingAndGlyphs" >= 11.62 hours</text>
<path d="M456.2 575.5 L464.6 575.5" stroke="#f5d060" stroke-width="0.9"/>
<path d="M459.20 575.50 L462.80 575.50 M461.00 573.70 L461.00 577.30 M459.74 574.24 L462.26 576.76 M462.26 574.24 L459.74 576.76" stroke="#f5d060" stroke-width="0.8"/>
<text x="468.9" y="577.8" font-size="7.0" fill="#1a1a1a" textLength="26.5" lengthAdjust="spacingAndGlyphs">Free <tspan font-size="4.2" dy="-2.8">89</tspan><tspan dy="2.8">Zr</tspan></text>
<text x="0.1" y="428" font-size="15.4" font-weight="bold" fill="#000" text-anchor="start" >D</text>
<path d="M37.6 424.6 L37.6 520.4 L113.8 520.4" fill="none" stroke="#8a8a8a" stroke-width="0.8"/>
<path d="M37.6 520.40 L39.4 520.40" stroke="#8a8a8a" stroke-width="0.7"/>
<text x="29.3" y="523.5" font-size="8.4" font-weight="normal" fill="#111" text-anchor="end" stroke="#111" stroke-width="0.12">0</text>
<path d="M37.6 501.24 L39.4 501.24" stroke="#8a8a8a" stroke-width="0.7"/>
<text x="29.3" y="504.34000000000003" font-size="8.4" font-weight="normal" fill="#111" text-anchor="end" stroke="#111" stroke-width="0.12">20</text>
<path d="M37.6 482.08 L39.4 482.08" stroke="#8a8a8a" stroke-width="0.7"/>
<text x="29.3" y="485.18" font-size="8.4" font-weight="normal" fill="#111" text-anchor="end" stroke="#111" stroke-width="0.12">40</text>
<path d="M37.6 462.92 L39.4 462.92" stroke="#8a8a8a" stroke-width="0.7"/>
<text x="29.3" y="466.02000000000004" font-size="8.4" font-weight="normal" fill="#111" text-anchor="end" stroke="#111" stroke-width="0.12">60</text>
<path d="M37.6 443.76 L39.4 443.76" stroke="#8a8a8a" stroke-width="0.7"/>
<text x="29.3" y="446.86" font-size="8.4" font-weight="normal" fill="#111" text-anchor="end" stroke="#111" stroke-width="0.12">80</text>
<path d="M37.6 424.60 L39.4 424.60" stroke="#8a8a8a" stroke-width="0.7"/>
<text x="29.3" y="427.70000000000005" font-size="8.4" font-weight="normal" fill="#111" text-anchor="end" stroke="#111" stroke-width="0.12">100</text>
<path d="M37.6 520.4 L37.6 522.1999999999999" stroke="#8a8a8a" stroke-width="0.7"/>
<path d="M56.6 520.4 L56.6 522.1999999999999" stroke="#8a8a8a" stroke-width="0.7"/>
<path d="M75.6 520.4 L75.6 522.1999999999999" stroke="#8a8a8a" stroke-width="0.7"/>
<path d="M94.7 520.4 L94.7 522.1999999999999" stroke="#8a8a8a" stroke-width="0.7"/>
<path d="M113.8 520.4 L113.8 522.1999999999999" stroke="#8a8a8a" stroke-width="0.7"/>
<text x="46.6" y="535.4" font-size="8.4" font-weight="normal" fill="#111" text-anchor="middle" stroke="#111" stroke-width="0.12">1</text>
<text x="65.6" y="535.4" font-size="8.4" font-weight="normal" fill="#111" text-anchor="middle" stroke="#111" stroke-width="0.12">4</text>
<text x="85" y="535.4" font-size="8.4" font-weight="normal" fill="#111" text-anchor="middle" stroke="#111" stroke-width="0.12">8</text>
<text x="103.5" y="535.4" font-size="8.4" font-weight="normal" fill="#111" text-anchor="middle" stroke="#111" stroke-width="0.12">24</text>
<text x="74.6" y="544.8" font-size="8.0" font-weight="bold" fill="#111" text-anchor="middle" textLength="43.5" lengthAdjust="spacingAndGlyphs" >Time (hours)</text>
<text transform="translate(11.9 475.2) rotate(-90)" font-size="7.3" font-weight="bold" fill="#111" text-anchor="middle" textLength="53" lengthAdjust="spacingAndGlyphs">% Injected dose</text>
<rect x="42.6" y="443.76" width="8.6" height="76.64" fill="url(#ybar)"/>
<path d="M46.9 443.76 L46.9 428.43" stroke="#f0d080" stroke-width="0.8"/>
<path d="M45.6 428.43 L48.2 428.43" stroke="#f0d080" stroke-width="0.6"/>
<rect x="72" y="427.5" width="5" height="5" fill="#f8d070"/>
<text x="80" y="432.6" font-size="7.6" font-weight="normal" fill="#222" text-anchor="start" stroke="#222" stroke-width="0.12">Urine</text>
<text x="80" y="441.6" font-size="7.6" font-weight="normal" fill="#222" text-anchor="start" stroke="#222" stroke-width="0.12">collected</text>
<text x="80" y="450.6" font-size="7.6" font-weight="normal" fill="#222" text-anchor="start" stroke="#222" stroke-width="0.12">through a</text>
<text x="80" y="459.6" font-size="7.6" font-weight="normal" fill="#222" text-anchor="start" stroke="#222" stroke-width="0.12">catheter</text>
<text x="77.2" y="487.4" font-size="7.4" font-weight="bold" fill="#111" text-anchor="start" textLength="30.4" lengthAdjust="spacingAndGlyphs"><tspan font-size="4.59" dy="-2.96" font-weight="bold">89</tspan><tspan dy="2.96">Zr-Bdd</tspan></text>
<text x="125.6" y="428.3" font-size="15.4" font-weight="bold" fill="#000" text-anchor="start" >E</text>
<path d="M169.8 425.2 L169.8 520.4 L299.10 520.4" fill="none" stroke="#8a8a8a" stroke-width="0.8"/>
<path d="M168.0 520.40 L169.8 520.40" stroke="#8a8a8a" stroke-width="0.7"/>
<text x="162.2" y="523.5" font-size="8.4" font-weight="normal" fill="#111" text-anchor="end" stroke="#111" stroke-width="0.12">0</text>
<path d="M168.0 488.67 L169.8 488.67" stroke="#8a8a8a" stroke-width="0.7"/>
<text x="162.2" y="491.76666666666665" font-size="8.4" font-weight="normal" fill="#111" text-anchor="end" stroke="#111" stroke-width="0.12">10</text>
<path d="M168.0 456.93 L169.8 456.93" stroke="#8a8a8a" stroke-width="0.7"/>
<text x="162.2" y="460.03333333333336" font-size="8.4" font-weight="normal" fill="#111" text-anchor="end" stroke="#111" stroke-width="0.12">20</text>
<path d="M168.0 425.20 L169.8 425.20" stroke="#8a8a8a" stroke-width="0.7"/>
<text x="162.2" y="428.3" font-size="8.4" font-weight="normal" fill="#111" text-anchor="end" stroke="#111" stroke-width="0.12">30</text>
<path d="M169.80 520.4 L169.80 518.6" stroke="#8a8a8a" stroke-width="0.7"/>
<text x="169.8" y="535.4" font-size="8.4" font-weight="normal" fill="#111" text-anchor="middle" stroke="#111" stroke-width="0.12">0</text>
<path d="M191.30 520.4 L191.30 518.6" stroke="#8a8a8a" stroke-width="0.7"/>
<text x="191.3" y="535.4" font-size="8.4" font-weight="normal" fill="#111" text-anchor="middle" stroke="#111" stroke-width="0.12">4</text>
<path d="M212.80 520.4 L212.80 518.6" stroke="#8a8a8a" stroke-width="0.7"/>
<text x="212.8" y="535.4" font-size="8.4" font-weight="normal" fill="#111" text-anchor="middle" stroke="#111" stroke-width="0.12">8</text>
<path d="M234.30 520.4 L234.30 518.6" stroke="#8a8a8a" stroke-width="0.7"/>
<text x="234.3" y="535.4" font-size="8.4" font-weight="normal" fill="#111" text-anchor="middle" stroke="#111" stroke-width="0.12">12</text>
<path d="M255.80 520.4 L255.80 518.6" stroke="#8a8a8a" stroke-width="0.7"/>
<text x="255.8" y="535.4" font-size="8.4" font-weight="normal" fill="#111" text-anchor="middle" stroke="#111" stroke-width="0.12">16</text>
<path d="M277.30 520.4 L277.30 518.6" stroke="#8a8a8a" stroke-width="0.7"/>
<text x="277.3" y="535.4" font-size="8.4" font-weight="normal" fill="#111" text-anchor="middle" stroke="#111" stroke-width="0.12">20</text>
<path d="M298.80 520.4 L298.80 518.6" stroke="#8a8a8a" stroke-width="0.7"/>
<text x="298.8" y="535.4" font-size="8.4" font-weight="normal" fill="#111" text-anchor="middle" stroke="#111" stroke-width="0.12">24</text>
<text x="231.7" y="544.6" font-size="8.0" font-weight="bold" fill="#111" text-anchor="middle" textLength="43.3" lengthAdjust="spacingAndGlyphs" >Time (hours)</text>
<text transform="translate(143.4 473) rotate(-90)" font-size="7.3" font-weight="bold" fill="#111" text-anchor="middle" textLength="89" lengthAdjust="spacingAndGlyphs">% Injected dose at ROI</text>
<path d="M175.18 453.76 C178.40 434.72 183.78 432.18 191.30 432.82 L298.80 479.46" fill="none" stroke="#9a9a9a" stroke-width="0.9"/>
<path d="M175.18 463.28 L175.18 444.24 M174.18 444.24 L176.18 444.24 M174.18 463.28 L176.18 463.28" stroke="#9a9a9a" stroke-width="0.6"/>
<path d="M173.50 452.08 L176.86 455.44 M176.86 452.08 L173.50 455.44" stroke="#9a9a9a" stroke-width="0.8"/>
<path d="M191.30 440.75 L191.30 424.88 M190.30 424.88 L192.30 424.88 M190.30 440.75 L192.30 440.75" stroke="#9a9a9a" stroke-width="0.6"/>
<path d="M189.62 431.14 L192.98 434.50 M192.98 431.14 L189.62 434.50" stroke="#9a9a9a" stroke-width="0.8"/>
<path d="M298.80 484.22 L298.80 474.70 M297.80 474.70 L299.80 474.70 M297.80 484.22 L299.80 484.22" stroke="#9a9a9a" stroke-width="0.6"/>
<path d="M297.12 477.78 L300.48 481.14 M300.48 477.78 L297.12 481.14" stroke="#9a9a9a" stroke-width="0.8"/>
<path d="M175.18 445.51 C179.48 457.19 185.93 459.79 191.30 460.11 C218.18 463.77 266.55 469.01 298.80 470.58" fill="none" stroke="#3cb878" stroke-width="0.9"/>
<path d="M175.18 456.62 L175.18 434.40 M174.18 434.40 L176.18 434.40 M174.18 456.62 L176.18 456.62" stroke="#3cb878" stroke-width="0.6"/>
<path d="M175.18 443.20 L177.49 447.36 L172.87 447.36 Z" fill="#fff" stroke="#3cb878" stroke-width="0.8"/>
<path d="M191.30 468.04 L191.30 452.17 M190.30 452.17 L192.30 452.17 M190.30 468.04 L192.30 468.04" stroke="#3cb878" stroke-width="0.6"/>
<path d="M191.30 457.80 L193.61 461.95 L188.99 461.95 Z" fill="#fff" stroke="#3cb878" stroke-width="0.8"/>
<path d="M298.80 474.39 L298.80 466.77 M297.80 466.77 L299.80 466.77 M297.80 474.39 L299.80 474.39" stroke="#3cb878" stroke-width="0.6"/>
<path d="M298.80 468.27 L301.11 472.43 L296.49 472.43 Z" fill="#fff" stroke="#3cb878" stroke-width="0.8"/>
<path d="M175.18 468.99 C179.48 472.55 185.93 473.12 191.30 473.43 C218.18 478.88 266.55 486.65 298.80 488.98" fill="none" stroke="#e04848" stroke-width="0.9"/>
<path d="M175.18 473.75 L175.18 464.23 M174.18 464.23 L176.18 464.23 M174.18 473.75 L176.18 473.75" stroke="#e04848" stroke-width="0.6"/>
<rect x="173.08" y="466.89" width="4.20" height="4.20" fill="#fff" stroke="#e04848" stroke-width="0.8"/>
<path d="M191.30 478.19 L191.30 468.67 M190.30 468.67 L192.30 468.67 M190.30 478.19 L192.30 478.19" stroke="#e04848" stroke-width="0.6"/>
<rect x="189.20" y="471.33" width="4.20" height="4.20" fill="#fff" stroke="#e04848" stroke-width="0.8"/>
<path d="M298.80 492.16 L298.80 485.81 M297.80 485.81 L299.80 485.81 M297.80 492.16 L299.80 492.16" stroke="#e04848" stroke-width="0.6"/>
<rect x="296.70" y="486.88" width="4.20" height="4.20" fill="#fff" stroke="#e04848" stroke-width="0.8"/>
<path d="M175.18 476.61 C179.48 480.67 185.93 481.37 191.30 481.69 C218.18 486.57 266.55 493.55 298.80 495.65" fill="none" stroke="#4a6fd8" stroke-width="0.9"/>
<path d="M175.18 480.42 L175.18 472.80 M174.18 472.80 L176.18 472.80 M174.18 480.42 L176.18 480.42" stroke="#4a6fd8" stroke-width="0.6"/>
<path d="M175.18 474.30 L177.49 476.61 L175.18 478.92 L172.87 476.61 Z" fill="#fff" stroke="#4a6fd8" stroke-width="0.8"/>
<path d="M191.30 485.49 L191.30 477.88 M190.30 477.88 L192.30 477.88 M190.30 485.49 L192.30 485.49" stroke="#4a6fd8" stroke-width="0.6"/>
<path d="M191.30 479.38 L193.61 481.69 L191.30 484.00 L188.99 481.69 Z" fill="#fff" stroke="#4a6fd8" stroke-width="0.8"/>
<path d="M298.80 498.19 L298.80 493.11 M297.80 493.11 L299.80 493.11 M297.80 498.19 L299.80 498.19" stroke="#4a6fd8" stroke-width="0.6"/>
<path d="M298.80 493.34 L301.11 495.65 L298.80 497.96 L296.49 495.65 Z" fill="#fff" stroke="#4a6fd8" stroke-width="0.8"/>
<path d="M175.18 481.69 C179.48 485.75 185.93 486.45 191.30 486.76 C218.18 487.21 266.55 487.84 298.80 488.03" fill="none" stroke="#f0a060" stroke-width="0.9"/>
<path d="M175.18 487.40 L175.18 475.97 M174.18 475.97 L176.18 475.97 M174.18 487.40 L176.18 487.40" stroke="#f0a060" stroke-width="0.6"/>
<path d="M175.18 479.38 L177.49 481.69 L175.18 484.00 L172.87 481.69 Z" fill="#fff" stroke="#f0a060" stroke-width="0.8"/>
<path d="M191.30 491.52 L191.30 482.00 M190.30 482.00 L192.30 482.00 M190.30 491.52 L192.30 491.52" stroke="#f0a060" stroke-width="0.6"/>
<path d="M191.30 484.45 L193.61 486.76 L191.30 489.07 L188.99 486.76 Z" fill="#fff" stroke="#f0a060" stroke-width="0.8"/>
<path d="M298.80 491.21 L298.80 484.86 M297.80 484.86 L299.80 484.86 M297.80 491.21 L299.80 491.21" stroke="#f0a060" stroke-width="0.6"/>
<path d="M298.80 485.72 L301.11 488.03 L298.80 490.34 L296.49 488.03 Z" fill="#fff" stroke="#f0a060" stroke-width="0.8"/>
<path d="M311 437.5 L318.6 437.5" stroke="#4a6fd8" stroke-width="0.9"/>
<path d="M314.80 435.30 L317.00 437.50 L314.80 439.70 L312.60 437.50 Z" fill="#fff" stroke="#4a6fd8" stroke-width="0.8"/>
<text x="320.3" y="440.7" font-size="6.7" font-weight="normal" fill="#222" text-anchor="start" textLength="28" lengthAdjust="spacingAndGlyphs" stroke="#222" stroke-width="0.12"><tspan font-size="4.15" dy="-2.68" font-weight="bold">89</tspan><tspan dy="2.68">Zr-BDD</tspan></text>
<path d="M311 455.8 L318.6 455.8" stroke="#e04848" stroke-width="0.9"/>
<rect x="312.80" y="453.80" width="4.00" height="4.00" fill="#fff" stroke="#e04848" stroke-width="0.8"/>
<text x="320.3" y="459.0" font-size="6.7" font-weight="normal" fill="#222" text-anchor="start" textLength="26" lengthAdjust="spacingAndGlyphs" stroke="#222" stroke-width="0.12"><tspan font-size="4.15" dy="-2.68" font-weight="bold">89</tspan><tspan dy="2.68">Zr-Bdd</tspan></text>
<path d="M311 474 L318.6 474" stroke="#3cb878" stroke-width="0.9"/>
<path d="M314.80 471.80 L317.00 475.76 L312.60 475.76 Z" fill="#fff" stroke="#3cb878" stroke-width="0.8"/>
<text x="320.3" y="477.2" font-size="6.7" font-weight="normal" fill="#222" text-anchor="start" textLength="28" lengthAdjust="spacingAndGlyphs" stroke="#222" stroke-width="0.12"><tspan font-size="4.15" dy="-2.68" font-weight="bold">89</tspan><tspan dy="2.68">Zr-BKD</tspan></text>
<path d="M311 492 L318.6 492" stroke="#f0a060" stroke-width="0.9"/>
<path d="M314.80 489.80 L317.00 492.00 L314.80 494.20 L312.60 492.00 Z" fill="#fff" stroke="#f0a060" stroke-width="0.8"/>
<text x="320.3" y="495.2" font-size="6.7" font-weight="normal" fill="#222" text-anchor="start" textLength="28" lengthAdjust="spacingAndGlyphs" stroke="#222" stroke-width="0.12"><tspan font-size="4.15" dy="-2.68" font-weight="bold">89</tspan><tspan dy="2.68">Zr-BKK</tspan></text>
<path d="M311 510.2 L318.6 510.2" stroke="#9a9a9a" stroke-width="0.9"/>
<path d="M313.20 508.60 L316.40 511.80 M316.40 508.60 L313.20 511.80" stroke="#9a9a9a" stroke-width="0.8"/>
<text x="320.3" y="513.4" font-size="6.7" font-weight="normal" fill="#222" text-anchor="start" textLength="40" lengthAdjust="spacingAndGlyphs" stroke="#222" stroke-width="0.12"><tspan font-size="4.15" dy="-2.68" font-weight="bold">89</tspan><tspan dy="2.68">Zr-PEG<tspan font-size="4" dy="1.5">3</tspan><tspan dy="-1.5">DD</tspan></tspan></text>
<text x="0.2" y="557.6" font-size="15.4" font-weight="bold" fill="#000" text-anchor="start" >G</text>
<path d="M37.2 558.5 L37.2 645.0 L363.60 645.0" fill="none" stroke="#8a8a8a" stroke-width="0.8"/>
<path d="M35.400000000000006 645.00 L37.2 645.00" stroke="#8a8a8a" stroke-width="0.7"/>
<text x="28.8" y="648.1" font-size="8.4" font-weight="normal" fill="#111" text-anchor="end" stroke="#111" stroke-width="0.12">0</text>
<path d="M35.400000000000006 623.38 L37.2 623.38" stroke="#8a8a8a" stroke-width="0.7"/>
<text x="28.8" y="626.475" font-size="8.4" font-weight="normal" fill="#111" text-anchor="end" stroke="#111" stroke-width="0.12">4</text>
<path d="M35.400000000000006 601.75 L37.2 601.75" stroke="#8a8a8a" stroke-width="0.7"/>
<text x="28.8" y="604.85" font-size="8.4" font-weight="normal" fill="#111" text-anchor="end" stroke="#111" stroke-width="0.12">8</text>
<path d="M35.400000000000006 580.12 L37.2 580.12" stroke="#8a8a8a" stroke-width="0.7"/>
<text x="28.8" y="583.225" font-size="8.4" font-weight="normal" fill="#111" text-anchor="end" stroke="#111" stroke-width="0.12">12</text>
<path d="M35.400000000000006 558.50 L37.2 558.50" stroke="#8a8a8a" stroke-width="0.7"/>
<text x="28.8" y="561.6" font-size="8.4" font-weight="normal" fill="#111" text-anchor="end" stroke="#111" stroke-width="0.12">16</text>
<path d="M37.20 645.0 L37.20 646.8" stroke="#8a8a8a" stroke-width="0.7"/>
<path d="M64.40 645.0 L64.40 646.8" stroke="#8a8a8a" stroke-width="0.7"/>
<path d="M91.60 645.0 L91.60 646.8" stroke="#8a8a8a" stroke-width="0.7"/>
<path d="M118.80 645.0 L118.80 646.8" stroke="#8a8a8a" stroke-width="0.7"/>
<path d="M146.00 645.0 L146.00 646.8" stroke="#8a8a8a" stroke-width="0.7"/>
<path d="M173.20 645.0 L173.20 646.8" stroke="#8a8a8a" stroke-width="0.7"/>
<path d="M200.40 645.0 L200.40 646.8" stroke="#8a8a8a" stroke-width="0.7"/>
<path d="M227.60 645.0 L227.60 646.8" stroke="#8a8a8a" stroke-width="0.7"/>
<path d="M254.80 645.0 L254.80 646.8" stroke="#8a8a8a" stroke-width="0.7"/>
<path d="M282.00 645.0 L282.00 646.8" stroke="#8a8a8a" stroke-width="0.7"/>
<path d="M309.20 645.0 L309.20 646.8" stroke="#8a8a8a" stroke-width="0.7"/>
<path d="M336.40 645.0 L336.40 646.8" stroke="#8a8a8a" stroke-width="0.7"/>
<path d="M363.60 645.0 L363.60 646.8" stroke="#8a8a8a" stroke-width="0.7"/>
<text transform="translate(13 601.6) rotate(-90)" font-size="7.3" font-weight="bold" fill="#111" text-anchor="middle" textLength="52.7" lengthAdjust="spacingAndGlyphs">% Injected dose</text>
<text transform="translate(52.80 658.4) rotate(-45)" font-size="8.6" fill="#1a1a1a" stroke="#1a1a1a" stroke-width="0.22" text-anchor="end" textLength="18.21" lengthAdjust="spacingAndGlyphs">Brain</text>
<text transform="translate(80.00 658.4) rotate(-45)" font-size="8.6" fill="#1a1a1a" stroke="#1a1a1a" stroke-width="0.22" text-anchor="end" textLength="19.07" lengthAdjust="spacingAndGlyphs">Heart</text>
<text transform="translate(107.20 658.4) rotate(-45)" font-size="8.6" fill="#1a1a1a" stroke="#1a1a1a" stroke-width="0.22" text-anchor="end" textLength="17.35" lengthAdjust="spacingAndGlyphs">Lung</text>
<text transform="translate(134.40 658.4) rotate(-45)" font-size="8.6" fill="#1a1a1a" stroke="#1a1a1a" stroke-width="0.22" text-anchor="end" textLength="16.91" lengthAdjust="spacingAndGlyphs">Liver</text>
<text transform="translate(161.60 658.4) rotate(-45)" font-size="8.6" fill="#1a1a1a" stroke="#1a1a1a" stroke-width="0.22" text-anchor="end" textLength="30.78" lengthAdjust="spacingAndGlyphs">Stomach</text>
<text transform="translate(188.80 658.4) rotate(-45)" font-size="8.6" fill="#1a1a1a" stroke="#1a1a1a" stroke-width="0.22" text-anchor="end" textLength="29.48" lengthAdjust="spacingAndGlyphs">Intestine</text>
<text transform="translate(216.00 658.4) rotate(-45)" font-size="8.6" fill="#1a1a1a" stroke="#1a1a1a" stroke-width="0.22" text-anchor="end" textLength="24.29" lengthAdjust="spacingAndGlyphs">Spleen</text>
<text transform="translate(243.20 658.4) rotate(-45)" font-size="8.6" fill="#1a1a1a" stroke="#1a1a1a" stroke-width="0.22" text-anchor="end" textLength="27.75" lengthAdjust="spacingAndGlyphs">Kidneys</text>
<text transform="translate(270.40 658.4) rotate(-45)" font-size="8.6" fill="#1a1a1a" stroke="#1a1a1a" stroke-width="0.22" text-anchor="end" textLength="24.71" lengthAdjust="spacingAndGlyphs">Muscle</text>
<text transform="translate(297.60 658.4) rotate(-45)" font-size="8.6" fill="#1a1a1a" stroke="#1a1a1a" stroke-width="0.22" text-anchor="end" textLength="18.22" lengthAdjust="spacingAndGlyphs">Bone</text>
<text transform="translate(324.80 658.4) rotate(-45)" font-size="8.6" fill="#1a1a1a" stroke="#1a1a1a" stroke-width="0.22" text-anchor="end" textLength="26.88" lengthAdjust="spacingAndGlyphs">Bladder</text>
<text transform="translate(352.00 658.4) rotate(-45)" font-size="8.6" fill="#1a1a1a" stroke="#1a1a1a" stroke-width="0.22" text-anchor="end" textLength="19.95" lengthAdjust="spacingAndGlyphs">Blood</text>
<rect x="227.80" y="562.83" width="5.44" height="82.17" fill="url(#g0)"/>
<rect x="227.80" y="562.83" width="5.44" height="82.17" fill="url(#gh0)"/>
<rect x="228.10" y="563.12" width="4.84" height="81.87" fill="none" stroke="#1a3ee0" stroke-width="0.6"/>
<path d="M230.52 562.83 L230.52 560.12 M229.52 560.12 L231.52 560.12" stroke="#1a3ee0" stroke-width="0.6"/>
<rect x="233.24" y="576.88" width="5.44" height="68.12" fill="url(#g1)"/>
<rect x="233.24" y="576.88" width="5.44" height="68.12" fill="url(#gh1)"/>
<rect x="233.54" y="577.18" width="4.84" height="67.82" fill="none" stroke="#f01818" stroke-width="0.6"/>
<path d="M235.96 576.88 L235.96 574.18 M234.96 574.18 L236.96 574.18" stroke="#f01818" stroke-width="0.6"/>
<circle cx="235.96" cy="571.98" r="1.0" fill="#f01818" opacity="0.85"/>
<circle cx="235.96" cy="568.98" r="1.0" fill="#f01818" opacity="0.85"/>
<circle cx="235.96" cy="565.98" r="1.0" fill="#f01818" opacity="0.85"/>
<rect x="238.68" y="598.51" width="5.44" height="46.49" fill="url(#g2)"/>
<rect x="238.68" y="598.51" width="5.44" height="46.49" fill="url(#gh2)"/>
<rect x="238.98" y="598.81" width="4.84" height="46.19" fill="none" stroke="#6cc040" stroke-width="0.6"/>
<path d="M241.40 598.51 L241.40 595.26 M240.40 595.26 L242.40 595.26" stroke="#6cc040" stroke-width="0.6"/>
<circle cx="241.40" cy="593.06" r="1.0" fill="#6cc040" opacity="0.85"/>
<circle cx="241.40" cy="590.06" r="1.0" fill="#6cc040" opacity="0.85"/>
<circle cx="241.40" cy="587.06" r="1.0" fill="#6cc040" opacity="0.85"/>
<rect x="244.12" y="623.92" width="5.44" height="21.08" fill="url(#g3)"/>
<rect x="244.12" y="623.92" width="5.44" height="21.08" fill="url(#gh3)"/>
<rect x="244.42" y="624.22" width="4.84" height="20.78" fill="none" stroke="#f08030" stroke-width="0.6"/>
<path d="M246.84 623.92 L246.84 621.21 M245.84 621.21 L247.84 621.21" stroke="#f08030" stroke-width="0.6"/>
<circle cx="246.84" cy="619.01" r="1.0" fill="#f08030" opacity="0.85"/>
<circle cx="246.84" cy="616.01" r="1.0" fill="#f08030" opacity="0.85"/>
<circle cx="246.84" cy="613.01" r="1.0" fill="#f08030" opacity="0.85"/>
<rect x="249.56" y="633.11" width="5.44" height="11.89" fill="url(#g4)"/>
<rect x="249.56" y="633.11" width="5.44" height="11.89" fill="url(#gh4)"/>
<rect x="249.86" y="633.41" width="4.84" height="11.59" fill="none" stroke="#f8c020" stroke-width="0.6"/>
<path d="M252.28 633.11 L252.28 630.94 M251.28 630.94 L253.28 630.94" stroke="#f8c020" stroke-width="0.6"/>
<circle cx="252.28" cy="628.74" r="1.0" fill="#f8c020" opacity="0.85"/>
<circle cx="252.28" cy="625.74" r="1.0" fill="#f8c020" opacity="0.85"/>
<circle cx="252.28" cy="622.74" r="1.0" fill="#f8c020" opacity="0.85"/>
<rect x="173.20" y="638.51" width="5.44" height="6.49" fill="#3050e0"/>
<rect x="174.40" y="639.31" width="3.04" height="2" fill="#c8d2fa"/>
<path d="M175.92 638.51 L175.92 636.35" stroke="#1a3ee0" stroke-width="0.6"/>
<rect x="178.64" y="644.20" width="5.44" height="0.8" fill="#f01818"/>
<rect x="58" y="566.6" width="5.6" height="5.3" fill="url(#g0)"/>
<text x="65.9" y="572.0" font-size="8.2" font-weight="normal" fill="#1a1a1a" text-anchor="None" textLength="27.5" lengthAdjust="spacingAndGlyphs" stroke="#1a1a1a" stroke-width="0.12">4 hours</text>
<rect x="105.4" y="566.6" width="5.6" height="5.3" fill="url(#g1)"/>
<text x="113.30000000000001" y="572.0" font-size="8.2" font-weight="normal" fill="#1a1a1a" text-anchor="None" textLength="32.2" lengthAdjust="spacingAndGlyphs" stroke="#1a1a1a" stroke-width="0.12">24 hours</text>
<rect x="58" y="590.5" width="5.6" height="5.3" fill="url(#g2)"/>
<text x="65.9" y="595.9" font-size="8.2" font-weight="normal" fill="#1a1a1a" text-anchor="None" textLength="32.3" lengthAdjust="spacingAndGlyphs" stroke="#1a1a1a" stroke-width="0.12">48 hours</text>
<rect x="105.4" y="590.5" width="5.6" height="5.3" fill="url(#g3)"/>
<text x="113.30000000000001" y="595.9" font-size="8.2" font-weight="normal" fill="#1a1a1a" text-anchor="None" textLength="23.3" lengthAdjust="spacingAndGlyphs" stroke="#1a1a1a" stroke-width="0.12">5 days</text>
<rect x="58" y="614.2" width="5.6" height="5.3" fill="url(#g4)"/>
<text x="65.9" y="619.6" font-size="8.2" font-weight="normal" fill="#1a1a1a" text-anchor="None" textLength="23.1" lengthAdjust="spacingAndGlyphs" stroke="#1a1a1a" stroke-width="0.12">7 days</text>
<text x="322" y="566.8" font-size="7.4" font-weight="bold" fill="#111" text-anchor="start" textLength="31" lengthAdjust="spacingAndGlyphs"><tspan font-size="4.59" dy="-2.96" font-weight="bold">89</tspan><tspan dy="2.96">Zr-Bdd</tspan></text>
<text x="270.6" y="11.8" font-size="15.4" font-weight="bold" fill="#000" text-anchor="start" >B</text>
<path d="M290.2 11 L287.2 11 L287.2 66 L290.2 66 M287.2 38.2 L284.8 38.2" fill="none" stroke="#35a9b5" stroke-width="0.9"/>
<path d="M290.2 69.8 L287.2 69.8 L287.2 127.2 L290.2 127.2 M287.2 98.5 L284.8 98.5" fill="none" stroke="#e0303c" stroke-width="0.9"/>
<text transform="translate(281.6 37.3) rotate(-90)" font-size="6.6" font-weight="bold" fill="#35a9b5" text-anchor="middle" textLength="15.4" lengthAdjust="spacingAndGlyphs">DFO</text>
<text transform="translate(281.6 97) rotate(-90)" font-size="6.6" font-weight="bold" fill="#e0303c" text-anchor="middle" textLength="31.5" lengthAdjust="spacingAndGlyphs"><tspan font-size="4" dy="-2.4">89</tspan><tspan dy="2.4">Zr-DFO</tspan></text>
<text x="314.2" y="26.30" font-size="7.0" fill="#111" font-weight="normal" text-anchor="middle">N</text>
<text x="320.6" y="34.90" font-size="6.3" fill="#111" font-weight="normal" text-anchor="middle">OH</text>
<path d="M315.2 26.2 L316.6 29.2" fill="none" stroke="#111" stroke-width="0.9" stroke-linejoin="round" />
<path d="M316.4 22.4 L321.6 20.2 L326.2 14.2 L331.6 13.2 L334.8 16.4" fill="none" stroke="#111" stroke-width="0.9" stroke-linejoin="round" />
<path d="M321.2 20.6 L325.4 25.6" fill="none" stroke="#111" stroke-width="0.9" stroke-linejoin="round" />
<path d="M322.3 19.8 L326.5 24.8" fill="none" stroke="#111" stroke-width="0.9" stroke-linejoin="round" />
<text x="327.6" y="30.30" font-size="7.0" fill="#111" font-weight="normal" text-anchor="middle">O</text>
<path d="M334.4 15.6 L336.6 12.2" fill="none" stroke="#111" stroke-width="0.9" stroke-linejoin="round" />
<path d="M335.6 16.4 L337.8 13" fill="none" stroke="#111" stroke-width="0.9" stroke-linejoin="round" />
<text x="338" y="12.70" font-size="7.0" fill="#111" font-weight="normal" text-anchor="middle">O</text>
<path d="M334.8 16.4 L334.8 19.4" fill="none" stroke="#111" stroke-width="0.9" stroke-linejoin="round" />
<text x="335.2" y="25.60" font-size="6.3" fill="#111" font-weight="normal" text-anchor="middle">HN</text>
<path d="M339.6 22.2 L344.2 20.6 L348.6 22.6 L352.8 24 L356.6 27.4 L357.6 31.6 L356.2 35.6 L350 37" fill="none" stroke="#111" stroke-width="0.9" stroke-linejoin="round" />
<text x="333.6" y="35.50" font-size="6.3" fill="#111" font-weight="normal" text-anchor="middle">HO</text>
<path d="M337.6 33.6 L344 36" fill="none" stroke="#111" stroke-width="0.9" stroke-linejoin="round" />
<text x="346.8" y="39.70" font-size="7.0" fill="#111" font-weight="normal" text-anchor="middle">N</text>
<path d="M345.6 39.8 L341.8 43.4 L342.6 49.4" fill="none" stroke="#111" stroke-width="0.9" stroke-linejoin="round" />
<path d="M341.4 42.6 L337 42.4" fill="none" stroke="#111" stroke-width="0.9" stroke-linejoin="round" />
<path d="M341.8 43.9 L337.2 43.6" fill="none" stroke="#111" stroke-width="0.9" stroke-linejoin="round" />
<text x="334.6" y="45.90" font-size="7.0" fill="#111" font-weight="normal" text-anchor="middle">O</text>
<path d="M311.8 25.4 L309.4 27 L303.4 28.4 L299 32.4 L297.6 39 L299.4 44.6 L300.2 46.6" fill="none" stroke="#111" stroke-width="0.9" stroke-linejoin="round" />
<text x="297.8" y="51.70" font-size="6.3" fill="#111" font-weight="normal" text-anchor="middle">HN</text>
<path d="M301.6 50.8 L303.6 53.8 L308.4 52.6 L313.4 50.6 L317.4 49.6 L321.8 54.6" fill="none" stroke="#111" stroke-width="0.9" stroke-linejoin="round" />
<path d="M303 54.4 L301.8 57.8" fill="none" stroke="#111" stroke-width="0.9" stroke-linejoin="round" />
<path d="M304.2 54.6 L303 58" fill="none" stroke="#111" stroke-width="0.9" stroke-linejoin="round" />
<text x="301.8" y="63.30" font-size="7.0" fill="#111" font-weight="normal" text-anchor="middle">O</text>
<path d="M316.8 49.4 L317.2 46" fill="none" stroke="#111" stroke-width="0.9" stroke-linejoin="round" />
<path d="M318 49.6 L318.4 46.2" fill="none" stroke="#111" stroke-width="0.9" stroke-linejoin="round" />
<text x="318" y="46.10" font-size="7.0" fill="#111" font-weight="normal" text-anchor="middle">O</text>
<text x="324.2" y="58.90" font-size="7.0" fill="#111" font-weight="normal" text-anchor="middle">N</text>
<path d="M325.2 53.8 L326.6 50.4" fill="none" stroke="#111" stroke-width="0.9" stroke-linejoin="round" />
<text x="328.4" y="49.90" font-size="6.3" fill="#111" font-weight="normal" text-anchor="middle">OH</text>
<g transform="translate(0 0)">
<path d="M324.2 56.2 L330.5 58.2 L336 61.2 L341.5 58.8 L346.5 62.2 L351.5 59.8 L356.5 63.4" fill="none" stroke="#111" stroke-width="0.9" stroke-linejoin="round" />
<text x="359.8" y="66.70" font-size="7.0" fill="#111" font-weight="normal" text-anchor="middle">N</text>
<text x="359.8" y="72.80" font-size="7.0" fill="#111" font-weight="normal" text-anchor="middle">H</text>
<path d="M362.2 62.8 L367.3 60" fill="none" stroke="#111" stroke-width="0.9" stroke-linejoin="round" />
<path d="M367.3 60 L372.5 62.8" fill="none" stroke="#111" stroke-width="0.9" stroke-linejoin="round" />
<path d="M366.7 59.8 L366.7 57.6" fill="none" stroke="#111" stroke-width="0.9" stroke-linejoin="round" />
<path d="M367.9 59.8 L367.9 57.6" fill="none" stroke="#111" stroke-width="0.9" stroke-linejoin="round" />
<text x="367.3" y="58.10" font-size="7.0" fill="#111" font-weight="normal" text-anchor="middle">S</text>
<text x="375.2" y="66.70" font-size="7.0" fill="#111" font-weight="normal" text-anchor="middle">N</text>
<text x="375.2" y="72.80" font-size="7.0" fill="#111" font-weight="normal" text-anchor="middle">H</text>
<path d="M377.6 62.6 L381 60.6" fill="none" stroke="#111" stroke-width="0.9" stroke-linejoin="round" />
<path d="M380.71 60.82 L383.1 54.24 L389.99 53.02 L394.49 58.38 L392.1 64.96 L385.21 66.18 L380.71 60.82" fill="none" stroke="#111" stroke-width="0.9" stroke-linejoin="round" />
<path d="M382.64 60.48 L384.36 55.74" fill="none" stroke="#111" stroke-width="0.6" stroke-linejoin="round" />
<path d="M389.32 54.86 L392.56 58.72" fill="none" stroke="#111" stroke-width="0.6" stroke-linejoin="round" />
<path d="M390.84 63.46 L385.88 64.34" fill="none" stroke="#111" stroke-width="0.6" stroke-linejoin="round" />
<path d="M394.49 58.38 L396 55.6" fill="none" stroke="#111" stroke-width="0.9" stroke-linejoin="round" />
<text x="398.2" y="55.90" font-size="7.0" fill="#111" font-weight="normal" text-anchor="middle">N</text>
<text x="398.2" y="49.80" font-size="7.0" fill="#111" font-weight="normal" text-anchor="middle">H</text>
<path d="M400.4 55 L405.2 57.8" fill="none" stroke="#111" stroke-width="0.9" stroke-linejoin="round" />
<path d="M405.2 57.8 L409.8 55" fill="none" stroke="#111" stroke-width="0.9" stroke-linejoin="round" />
<path d="M404.6 58 L404.6 61.2" fill="none" stroke="#111" stroke-width="0.9" stroke-linejoin="round" />
<path d="M405.8 58 L405.8 61.2" fill="none" stroke="#111" stroke-width="0.9" stroke-linejoin="round" />
<text x="405.2" y="66.10" font-size="7.0" fill="#111" font-weight="normal" text-anchor="middle">S</text>
<text x="412.2" y="55.90" font-size="7.0" fill="#111" font-weight="normal" text-anchor="middle">N</text>
<text x="412.2" y="49.80" font-size="7.0" fill="#111" font-weight="normal" text-anchor="middle">H</text>
<path d="M414.6 52.4 L421.5 52.4" fill="none" stroke="#111" stroke-width="0.9" stroke-linejoin="round" />
<rect x="421" y="45.2" width="55" height="14.4" rx="3.2" fill="url(#pep)" stroke="#6a8ed0" stroke-width="0.5"/>
<rect x="470.5" y="45.4" width="5.3" height="14" rx="2" fill="url(#pepend)"/>
<text x="447" y="56.2" font-size="9.4" font-weight="bold" fill="#fbd0b0" text-anchor="middle" textLength="32.8" lengthAdjust="spacingAndGlyphs">Peptide</text>
<text x="476.4" y="55.2" font-size="8" fill="#111" stroke="#111" stroke-width="0.12" textLength="25.3" lengthAdjust="spacingAndGlyphs">-CONH<tspan font-size="4.6" dy="1.6">2</tspan></text>
</g>
<text x="315" y="83.70" font-size="7.0" fill="#111" font-weight="normal" text-anchor="middle">N</text>
<path d="M316.8 79.6 L322.4 77.6 L326.4 73.4 L331.6 73 L334.4 75.2" fill="none" stroke="#111" stroke-width="0.9" stroke-linejoin="round" />
<path d="M321.6 78.2 L325.6 83" fill="none" stroke="#111" stroke-width="0.9" stroke-linejoin="round" />
<path d="M322.8 77.4 L326.8 82.2" fill="none" stroke="#111" stroke-width="0.9" stroke-linejoin="round" />
<text x="327.6" y="88.10" font-size="7.0" fill="#111" font-weight="normal" text-anchor="middle">O</text>
<path d="M334 74.6 L336.2 71" fill="none" stroke="#111" stroke-width="0.9" stroke-linejoin="round" />
<path d="M335.2 75.4 L337.4 71.8" fill="none" stroke="#111" stroke-width="0.9" stroke-linejoin="round" />
<text x="337.4" y="71.10" font-size="7.0" fill="#111" font-weight="normal" text-anchor="middle">O</text>
<path d="M334.4 75.2 L334.6 77.8" fill="none" stroke="#111" stroke-width="0.9" stroke-linejoin="round" />
<text x="335" y="83.10" font-size="6.3" fill="#111" font-weight="normal" text-anchor="middle">HN</text>
<path d="M339.6 79.6 L344.2 78.4 L348.6 80.4 L352.8 82.6 L356.4 85.6 L357.4 89.6 L355.6 93.6 L350 94.6" fill="none" stroke="#111" stroke-width="0.9" stroke-linejoin="round" />
<path d="M315.6 83.8 L316.2 87.4" fill="none" stroke="#111" stroke-width="0.9" stroke-linejoin="round" />
<text x="316.6" y="93.10" font-size="7.0" fill="#111" font-weight="normal" text-anchor="middle">O</text>
<text x="338.2" y="93.10" font-size="7.0" fill="#111" font-weight="normal" text-anchor="middle">O</text>
<path d="M340.4 91.6 L344.2 93.4" fill="none" stroke="#111" stroke-width="0.9" stroke-linejoin="round" />
<text x="346.8" y="97.10" font-size="7.0" fill="#111" font-weight="normal" text-anchor="middle">N</text>
<path d="M345.4 97 L341.6 100.8 L343.4 107.6" fill="none" stroke="#111" stroke-width="0.9" stroke-linejoin="round" />
<path d="M341.2 100.2 L337 101.6" fill="none" stroke="#111" stroke-width="0.9" stroke-linejoin="round" />
<path d="M341.8 101.4 L337.6 102.8" fill="none" stroke="#111" stroke-width="0.9" stroke-linejoin="round" />
<text x="334.4" y="105.30" font-size="7.0" fill="#111" font-weight="normal" text-anchor="middle">O</text>
<text x="325.8" y="101.2" font-size="8.4" font-weight="bold" fill="#e02030" text-anchor="middle">Zr</text>
<path d="M319 91.6 L322 94.8" fill="none" stroke="#222" stroke-width="0.8" stroke-linejoin="round" stroke-dasharray="0.9 0.9"/>
<path d="M327.2 88.2 L326.8 92.4" fill="none" stroke="#222" stroke-width="0.8" stroke-linejoin="round" stroke-dasharray="0.9 0.9"/>
<path d="M336 91.6 L330.6 95.4" fill="none" stroke="#222" stroke-width="0.8" stroke-linejoin="round" stroke-dasharray="0.9 0.9"/>
<path d="M332 102.2 L330.4 99.6" fill="none" stroke="#222" stroke-width="0.8" stroke-linejoin="round" stroke-dasharray="0.9 0.9"/>
<path d="M317.6 101 L321.4 99.2" fill="none" stroke="#222" stroke-width="0.8" stroke-linejoin="round" stroke-dasharray="0.9 0.9"/>
<path d="M325.6 103.6 L325.8 102.4" fill="none" stroke="#222" stroke-width="0.8" stroke-linejoin="round" stroke-dasharray="0.9 0.9"/>
<text x="315.2" y="104.70" font-size="7.0" fill="#111" font-weight="normal" text-anchor="middle">O</text>
<text x="325.8" y="109.30" font-size="7.0" fill="#111" font-weight="normal" text-anchor="middle">O</text>
<path d="M312.2 82.8 L309.4 84.6 L303.2 86 L298.8 89.2 L297.2 95 L297.6 100.6 L300 104.6" fill="none" stroke="#111" stroke-width="0.9" stroke-linejoin="round" />
<text x="297.8" y="110.10" font-size="6.3" fill="#111" font-weight="normal" text-anchor="middle">HN</text>
<path d="M301.6 109.2 L303.6 112.6 L308.8 111.4 L313.6 109.6 L317.6 108.4 L321.8 112.8" fill="none" stroke="#111" stroke-width="0.9" stroke-linejoin="round" />
<path d="M303 113.2 L301.8 116.4" fill="none" stroke="#111" stroke-width="0.9" stroke-linejoin="round" />
<path d="M304.2 113.4 L303 116.8" fill="none" stroke="#111" stroke-width="0.9" stroke-linejoin="round" />
<text x="302" y="121.90" font-size="7.0" fill="#111" font-weight="normal" text-anchor="middle">O</text>
<text x="324.4" y="117.10" font-size="7.0" fill="#111" font-weight="normal" text-anchor="middle">N</text>
<path d="M325.2 112 L325.8 109.6" fill="none" stroke="#111" stroke-width="0.9" stroke-linejoin="round" />
<path d="M317.4 108.2 L317.2 105" fill="none" stroke="#111" stroke-width="0.9" stroke-linejoin="round" />
<g transform="translate(0 58.4)">
<path d="M324.2 56.2 L330.5 58.2 L336 61.2 L341.5 58.8 L346.5 62.2 L351.5 59.8 L356.5 63.4" fill="none" stroke="#111" stroke-width="0.9" stroke-linejoin="round" />
<text x="359.8" y="66.70" font-size="7.0" fill="#111" font-weight="normal" text-anchor="middle">N</text>
<text x="359.8" y="72.80" font-size="7.0" fill="#111" font-weight="normal" text-anchor="middle">H</text>
<path d="M362.2 62.8 L367.3 60" fill="none" stroke="#111" stroke-width="0.9" stroke-linejoin="round" />
<path d="M367.3 60 L372.5 62.8" fill="none" stroke="#111" stroke-width="0.9" stroke-linejoin="round" />
<path d="M366.7 59.8 L366.7 57.6" fill="none" stroke="#111" stroke-width="0.9" stroke-linejoin="round" />
<path d="M367.9 59.8 L367.9 57.6" fill="none" stroke="#111" stroke-width="0.9" stroke-linejoin="round" />
<text x="367.3" y="58.10" font-size="7.0" fill="#111" font-weight="normal" text-anchor="middle">S</text>
<text x="375.2" y="66.70" font-size="7.0" fill="#111" font-weight="normal" text-anchor="middle">N</text>
<text x="375.2" y="72.80" font-size="7.0" fill="#111" font-weight="normal" text-anchor="middle">H</text>
<path d="M377.6 62.6 L381 60.6" fill="none" stroke="#111" stroke-width="0.9" stroke-linejoin="round" />
<path d="M380.71 60.82 L383.1 54.24 L389.99 53.02 L394.49 58.38 L392.1 64.96 L385.21 66.18 L380.71 60.82" fill="none" stroke="#111" stroke-width="0.9" stroke-linejoin="round" />
<path d="M382.64 60.48 L384.36 55.74" fill="none" stroke="#111" stroke-width="0.6" stroke-linejoin="round" />
<path d="M389.32 54.86 L392.56 58.72" fill="none" stroke="#111" stroke-width="0.6" stroke-linejoin="round" />
<path d="M390.84 63.46 L385.88 64.34" fill="none" stroke="#111" stroke-width="0.6" stroke-linejoin="round" />
<path d="M394.49 58.38 L396 55.6" fill="none" stroke="#111" stroke-width="0.9" stroke-linejoin="round" />
<text x="398.2" y="55.90" font-size="7.0" fill="#111" font-weight="normal" text-anchor="middle">N</text>
<text x="398.2" y="49.80" font-size="7.0" fill="#111" font-weight="normal" text-anchor="middle">H</text>
<path d="M400.4 55 L405.2 57.8" fill="none" stroke="#111" stroke-width="0.9" stroke-linejoin="round" />
<path d="M405.2 57.8 L409.8 55" fill="none" stroke="#111" stroke-width="0.9" stroke-linejoin="round" />
<path d="M404.6 58 L404.6 61.2" fill="none" stroke="#111" stroke-width="0.9" stroke-linejoin="round" />
<path d="M405.8 58 L405.8 61.2" fill="none" stroke="#111" stroke-width="0.9" stroke-linejoin="round" />
<text x="405.2" y="66.10" font-size="7.0" fill="#111" font-weight="normal" text-anchor="middle">S</text>
<text x="412.2" y="55.90" font-size="7.0" fill="#111" font-weight="normal" text-anchor="middle">N</text>
<text x="412.2" y="49.80" font-size="7.0" fill="#111" font-weight="normal" text-anchor="middle">H</text>
<path d="M414.6 52.4 L421.5 52.4" fill="none" stroke="#111" stroke-width="0.9" stroke-linejoin="round" />
<rect x="421" y="45.2" width="55" height="14.4" rx="3.2" fill="url(#pep)" stroke="#6a8ed0" stroke-width="0.5"/>
<rect x="470.5" y="45.4" width="5.3" height="14" rx="2" fill="url(#pepend)"/>
<text x="447" y="56.2" font-size="9.4" font-weight="bold" fill="#fbd0b0" text-anchor="middle" textLength="32.8" lengthAdjust="spacingAndGlyphs">Peptide</text>
<text x="476.4" y="55.2" font-size="8" fill="#111" stroke="#111" stroke-width="0.12" textLength="25.3" lengthAdjust="spacingAndGlyphs">-CONH<tspan font-size="4.6" dy="1.6">2</tspan></text>
</g>
<text x="423.6" y="24.6" font-size="7.6" font-weight="bold" fill="#111" text-anchor="middle" textLength="36.4" lengthAdjust="spacingAndGlyphs" >N-terminal</text>
<text x="473.3" y="24.6" font-size="7.6" font-weight="bold" fill="#111" text-anchor="middle" textLength="35.5" lengthAdjust="spacingAndGlyphs" >C-terminal</text>
<path d="M423.5 28.6 L423.5 41" stroke="#111" stroke-width="0.8"/><path d="M421.7 38.6 L423.5 42.6 L425.3 38.6 Z" fill="#111"/>
<path d="M472.2 28.6 L472.2 41" stroke="#111" stroke-width="0.8"/><path d="M470.4 38.6 L472.2 42.6 L474.0 38.6 Z" fill="#111"/>
<path d="M436 73.4 C446.5 74.5 450 86 440.4 92.2" fill="none" stroke="#111" stroke-width="2.1"/>
<path d="M435.8 95.4 L444.6 94.6 L440.6 88.8 Z" fill="#111"/>
<text x="450.2" y="76.6" font-size="8.2" font-style="italic" fill="#1a1a1a"><tspan font-size="4.8" dy="-3">89</tspan><tspan dy="3" textLength="35.6" lengthAdjust="spacingAndGlyphs">Zr-oxalate</tspan></text>
<text x="455.6" y="87.0" font-size="8.2" font-weight="normal" fill="#1a1a1a" text-anchor="None" textLength="25.4" lengthAdjust="spacingAndGlyphs" font-style="italic" stroke="#1a1a1a" stroke-width="0.12">pH &gt; 7.4</text>
<text x="454.2" y="95.4" font-size="8.2" font-weight="normal" fill="#1a1a1a" text-anchor="None" textLength="41.8" lengthAdjust="spacingAndGlyphs" font-style="italic" stroke="#1a1a1a" stroke-width="0.12">1.5 hours/RT</text>
</svg></body></html>
